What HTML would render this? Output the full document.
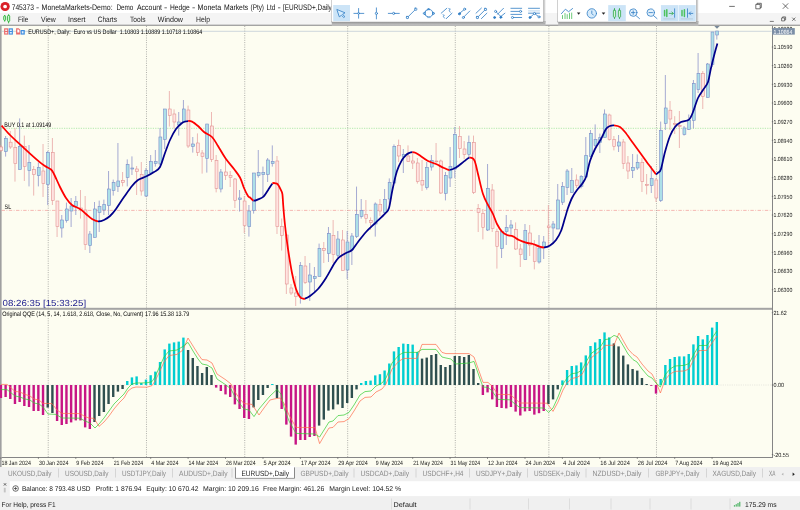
<!DOCTYPE html>
<html lang="en"><head><meta charset="utf-8"><title>745373 - MonetaMarkets-Demo - [EURUSD+,Daily]</title>
<style>
html,body{margin:0;padding:0;background:#f0f0f0;overflow:hidden}
svg{display:block;will-change:transform;font-family:"Liberation Sans",sans-serif}
text{white-space:pre;text-rendering:geometricPrecision}
.t7{font-size:6.6px;fill:#000}
.ax{font-size:6px;fill:#1a1a1a}
.dt{font-size:6.2px;fill:#1a1a1a}
.tab{font-size:7.6px;fill:#8a8a8a}
.tabA{font-size:7.6px;fill:#222}
.tb{font-size:7px;fill:#1a1a1a}
.menu{font-size:7.8px;fill:#222}
</style></head><body>
<svg width="800" height="510" viewBox="0 0 800 510">
<rect x="0" y="0" width="800" height="510" fill="#f0f0f0"/>
<rect x="0" y="0" width="800" height="13" fill="#ffffff"/>
<rect x="0" y="13" width="800" height="12.5" fill="#f4f4f4"/>
<rect x="0" y="25.5" width="800" height="442" fill="#fdfdf1"/>
<rect x="0" y="24" width="800" height="1" fill="#dcdcdc"/><rect x="0" y="24.9" width="800" height="0.9" fill="#8f8f8f"/>
<rect x="0" y="25.5" width="1.6" height="442" fill="#a0a0a0"/>
<line x1="48.22" y1="26" x2="48.22" y2="457" stroke="#7c7c7c" stroke-width="0.6" stroke-dasharray="1 1.3"/>
<line x1="146.48" y1="26" x2="146.48" y2="457" stroke="#7c7c7c" stroke-width="0.6" stroke-dasharray="1 1.3"/>
<line x1="244.74" y1="26" x2="244.74" y2="457" stroke="#7c7c7c" stroke-width="0.6" stroke-dasharray="1 1.3"/>
<line x1="347.68" y1="26" x2="347.68" y2="457" stroke="#7c7c7c" stroke-width="0.6" stroke-dasharray="1 1.3"/>
<line x1="455.29" y1="26" x2="455.29" y2="457" stroke="#7c7c7c" stroke-width="0.6" stroke-dasharray="1 1.3"/>
<line x1="548.87" y1="26" x2="548.87" y2="457" stroke="#7c7c7c" stroke-width="0.6" stroke-dasharray="1 1.3"/>
<line x1="656.49" y1="26" x2="656.49" y2="457" stroke="#7c7c7c" stroke-width="0.6" stroke-dasharray="1 1.3"/>
<line x1="1.6" y1="128.3" x2="771.6" y2="128.3" stroke="#7fdc7f" stroke-width="0.6" stroke-dasharray="1.2 1.2"/>
<line x1="1.6" y1="210.4" x2="771.6" y2="210.4" stroke="#f08a8a" stroke-width="0.6" stroke-dasharray="3.4 1.5 0.8 1.5"/>
<line x1="1.6" y1="31.3" x2="771.6" y2="31.3" stroke="#b9c6d2" stroke-width="0.7"/>
<line x1="1.6" y1="385" x2="771.6" y2="385" stroke="#c8c8c8" stroke-width="0.6" stroke-dasharray="0.6 1.2"/>
<line x1="0.93" y1="145.0" x2="0.93" y2="152.0" stroke="#e59a9a" stroke-width="0.7"/>
<rect x="-0.17" y="147.0" width="2.9" height="3.4" fill="#ffe4e1" stroke="#e29292" stroke-width="0.6"/>
<line x1="5.61" y1="136.0" x2="5.61" y2="156.6" stroke="#7f86c6" stroke-width="0.7"/>
<rect x="4.51" y="138.4" width="2.9" height="13.2" fill="#ace0e8" stroke="#7a8ac8" stroke-width="0.6"/>
<line x1="10.29" y1="131.0" x2="10.29" y2="149.0" stroke="#e59a9a" stroke-width="0.7"/>
<rect x="9.19" y="142.2" width="2.9" height="4.8" fill="#ffe4e1" stroke="#e29292" stroke-width="0.6"/>
<line x1="14.97" y1="128.0" x2="14.97" y2="181.6" stroke="#e59a9a" stroke-width="0.7"/>
<rect x="13.87" y="147.4" width="2.9" height="16.2" fill="#ffe4e1" stroke="#e29292" stroke-width="0.6"/>
<line x1="19.65" y1="118.4" x2="19.65" y2="169.4" stroke="#7f86c6" stroke-width="0.7"/>
<rect x="18.55" y="146.4" width="2.9" height="23.0" fill="#ace0e8" stroke="#7a8ac8" stroke-width="0.6"/>
<line x1="24.33" y1="135.6" x2="24.33" y2="181.0" stroke="#e59a9a" stroke-width="0.7"/>
<rect x="23.23" y="146.4" width="2.9" height="20.0" fill="#ffe4e1" stroke="#e29292" stroke-width="0.6"/>
<line x1="29.00" y1="145.0" x2="29.00" y2="186.4" stroke="#7f86c6" stroke-width="0.7"/>
<rect x="27.90" y="162.4" width="2.9" height="8.2" fill="#ace0e8" stroke="#7a8ac8" stroke-width="0.6"/>
<line x1="33.68" y1="166.0" x2="33.68" y2="195.6" stroke="#e59a9a" stroke-width="0.7"/>
<rect x="32.58" y="169.4" width="2.9" height="5.2" fill="#ffe4e1" stroke="#e29292" stroke-width="0.6"/>
<line x1="38.36" y1="162.4" x2="38.36" y2="186.4" stroke="#7f86c6" stroke-width="0.7"/>
<rect x="37.26" y="167.4" width="2.9" height="8.2" fill="#ace0e8" stroke="#7a8ac8" stroke-width="0.6"/>
<line x1="43.04" y1="144.0" x2="43.04" y2="197.0" stroke="#e59a9a" stroke-width="0.7"/>
<rect x="41.94" y="171.0" width="2.9" height="12.4" fill="#ffe4e1" stroke="#e29292" stroke-width="0.6"/>
<line x1="47.72" y1="151.0" x2="47.72" y2="205.0" stroke="#7f86c6" stroke-width="0.7"/>
<rect x="46.62" y="152.4" width="2.9" height="32.0" fill="#ace0e8" stroke="#7a8ac8" stroke-width="0.6"/>
<line x1="52.40" y1="138.0" x2="52.40" y2="205.0" stroke="#e59a9a" stroke-width="0.7"/>
<rect x="51.30" y="152.4" width="2.9" height="48.0" fill="#ffe4e1" stroke="#e29292" stroke-width="0.6"/>
<line x1="57.08" y1="201.0" x2="57.08" y2="237.0" stroke="#e59a9a" stroke-width="0.7"/>
<rect x="55.98" y="201.0" width="2.9" height="25.6" fill="#ffe4e1" stroke="#e29292" stroke-width="0.6"/>
<line x1="61.76" y1="215.0" x2="61.76" y2="237.6" stroke="#7f86c6" stroke-width="0.7"/>
<rect x="60.66" y="220.0" width="2.9" height="8.0" fill="#ace0e8" stroke="#7a8ac8" stroke-width="0.6"/>
<line x1="66.44" y1="202.6" x2="66.44" y2="222.6" stroke="#7f86c6" stroke-width="0.7"/>
<rect x="65.34" y="209.0" width="2.9" height="11.6" fill="#ace0e8" stroke="#7a8ac8" stroke-width="0.6"/>
<line x1="71.12" y1="198.0" x2="71.12" y2="227.0" stroke="#7f86c6" stroke-width="0.7"/>
<rect x="70.02" y="206.0" width="2.9" height="5.0" fill="#ace0e8" stroke="#7a8ac8" stroke-width="0.6"/>
<line x1="75.79" y1="196.0" x2="75.79" y2="215.0" stroke="#7f86c6" stroke-width="0.7"/>
<rect x="74.69" y="201.4" width="2.9" height="5.2" fill="#ace0e8" stroke="#7a8ac8" stroke-width="0.6"/>
<line x1="80.47" y1="190.0" x2="80.47" y2="218.6" stroke="#e59a9a" stroke-width="0.7"/>
<rect x="79.37" y="208.0" width="2.9" height="2.0" fill="#ffe4e1" stroke="#e29292" stroke-width="0.6"/>
<line x1="85.15" y1="196.0" x2="85.15" y2="250.0" stroke="#e59a9a" stroke-width="0.7"/>
<rect x="84.05" y="210.0" width="2.9" height="34.6" fill="#ffe4e1" stroke="#e29292" stroke-width="0.6"/>
<line x1="89.83" y1="231.0" x2="89.83" y2="253.0" stroke="#7f86c6" stroke-width="0.7"/>
<rect x="88.73" y="234.0" width="2.9" height="11.6" fill="#ace0e8" stroke="#7a8ac8" stroke-width="0.6"/>
<line x1="94.51" y1="202.0" x2="94.51" y2="237.4" stroke="#7f86c6" stroke-width="0.7"/>
<rect x="93.41" y="209.0" width="2.9" height="28.4" fill="#ace0e8" stroke="#7a8ac8" stroke-width="0.6"/>
<line x1="99.19" y1="200.6" x2="99.19" y2="232.0" stroke="#7f86c6" stroke-width="0.7"/>
<rect x="98.09" y="206.4" width="2.9" height="6.0" fill="#ace0e8" stroke="#7a8ac8" stroke-width="0.6"/>
<line x1="103.87" y1="199.6" x2="103.87" y2="215.0" stroke="#7f86c6" stroke-width="0.7"/>
<rect x="102.77" y="204.4" width="2.9" height="5.6" fill="#ace0e8" stroke="#7a8ac8" stroke-width="0.6"/>
<line x1="108.55" y1="171.0" x2="108.55" y2="215.0" stroke="#7f86c6" stroke-width="0.7"/>
<rect x="107.45" y="189.0" width="2.9" height="16.6" fill="#ace0e8" stroke="#7a8ac8" stroke-width="0.6"/>
<line x1="113.23" y1="179.6" x2="113.23" y2="195.6" stroke="#7f86c6" stroke-width="0.7"/>
<rect x="112.13" y="182.4" width="2.9" height="8.0" fill="#ace0e8" stroke="#7a8ac8" stroke-width="0.6"/>
<line x1="117.91" y1="143.0" x2="117.91" y2="192.0" stroke="#7f86c6" stroke-width="0.7"/>
<rect x="116.81" y="181.0" width="2.9" height="5.4" fill="#ace0e8" stroke="#7a8ac8" stroke-width="0.6"/>
<line x1="122.58" y1="172.0" x2="122.58" y2="186.4" stroke="#e59a9a" stroke-width="0.7"/>
<rect x="121.48" y="180.4" width="2.9" height="2.2" fill="#ffe4e1" stroke="#e29292" stroke-width="0.6"/>
<line x1="127.26" y1="159.4" x2="127.26" y2="186.4" stroke="#7f86c6" stroke-width="0.7"/>
<rect x="126.16" y="164.4" width="2.9" height="13.0" fill="#ace0e8" stroke="#7a8ac8" stroke-width="0.6"/>
<line x1="131.94" y1="156.4" x2="131.94" y2="175.0" stroke="#7f86c6" stroke-width="0.7"/>
<rect x="130.84" y="168.0" width="2.9" height="1.0" fill="#ace0e8" stroke="#7a8ac8" stroke-width="0.6"/>
<line x1="136.62" y1="166.0" x2="136.62" y2="195.0" stroke="#e59a9a" stroke-width="0.7"/>
<rect x="135.52" y="169.0" width="2.9" height="2.6" fill="#ffe4e1" stroke="#e29292" stroke-width="0.6"/>
<line x1="141.30" y1="162.0" x2="141.30" y2="195.6" stroke="#e59a9a" stroke-width="0.7"/>
<rect x="140.20" y="174.4" width="2.9" height="16.6" fill="#ffe4e1" stroke="#e29292" stroke-width="0.6"/>
<line x1="145.98" y1="168.0" x2="145.98" y2="197.0" stroke="#7f86c6" stroke-width="0.7"/>
<rect x="144.88" y="170.6" width="2.9" height="25.4" fill="#ace0e8" stroke="#7a8ac8" stroke-width="0.6"/>
<line x1="150.66" y1="155.0" x2="150.66" y2="173.0" stroke="#7f86c6" stroke-width="0.7"/>
<rect x="149.56" y="161.6" width="2.9" height="11.4" fill="#ace0e8" stroke="#7a8ac8" stroke-width="0.6"/>
<line x1="155.34" y1="150.0" x2="155.34" y2="166.6" stroke="#7f86c6" stroke-width="0.7"/>
<rect x="154.24" y="161.6" width="2.9" height="1.8" fill="#ace0e8" stroke="#7a8ac8" stroke-width="0.6"/>
<line x1="160.02" y1="128.0" x2="160.02" y2="165.0" stroke="#7f86c6" stroke-width="0.7"/>
<rect x="158.92" y="137.0" width="2.9" height="27.0" fill="#ace0e8" stroke="#7a8ac8" stroke-width="0.6"/>
<line x1="164.70" y1="109.0" x2="164.70" y2="149.0" stroke="#7f86c6" stroke-width="0.7"/>
<rect x="163.60" y="109.0" width="2.9" height="30.4" fill="#ace0e8" stroke="#7a8ac8" stroke-width="0.6"/>
<line x1="169.37" y1="91.0" x2="169.37" y2="126.5" stroke="#e59a9a" stroke-width="0.7"/>
<rect x="168.27" y="109.0" width="2.9" height="6.4" fill="#ffe4e1" stroke="#e29292" stroke-width="0.6"/>
<line x1="174.05" y1="109.4" x2="174.05" y2="128.5" stroke="#e59a9a" stroke-width="0.7"/>
<rect x="172.95" y="114.0" width="2.9" height="8.0" fill="#ffe4e1" stroke="#e29292" stroke-width="0.6"/>
<line x1="178.73" y1="112.0" x2="178.73" y2="135.6" stroke="#7f86c6" stroke-width="0.7"/>
<rect x="177.63" y="122.0" width="2.9" height="3.0" fill="#ace0e8" stroke="#7a8ac8" stroke-width="0.6"/>
<line x1="183.41" y1="100.0" x2="183.41" y2="122.0" stroke="#7f86c6" stroke-width="0.7"/>
<rect x="182.31" y="109.0" width="2.9" height="13.0" fill="#ace0e8" stroke="#7a8ac8" stroke-width="0.6"/>
<line x1="188.09" y1="105.6" x2="188.09" y2="148.0" stroke="#e59a9a" stroke-width="0.7"/>
<rect x="186.99" y="110.0" width="2.9" height="36.0" fill="#ffe4e1" stroke="#e29292" stroke-width="0.6"/>
<line x1="192.77" y1="137.0" x2="192.77" y2="152.6" stroke="#7f86c6" stroke-width="0.7"/>
<rect x="191.67" y="144.0" width="2.9" height="2.4" fill="#ace0e8" stroke="#7a8ac8" stroke-width="0.6"/>
<line x1="197.45" y1="133.4" x2="197.45" y2="156.0" stroke="#e59a9a" stroke-width="0.7"/>
<rect x="196.35" y="143.0" width="2.9" height="9.4" fill="#ffe4e1" stroke="#e29292" stroke-width="0.6"/>
<line x1="202.13" y1="150.0" x2="202.13" y2="173.6" stroke="#e59a9a" stroke-width="0.7"/>
<rect x="201.03" y="153.0" width="2.9" height="3.4" fill="#ffe4e1" stroke="#e29292" stroke-width="0.6"/>
<line x1="206.81" y1="124.0" x2="206.81" y2="172.6" stroke="#7f86c6" stroke-width="0.7"/>
<rect x="205.71" y="124.0" width="2.9" height="34.6" fill="#ace0e8" stroke="#7a8ac8" stroke-width="0.6"/>
<line x1="211.49" y1="112.0" x2="211.49" y2="162.0" stroke="#e59a9a" stroke-width="0.7"/>
<rect x="210.39" y="126.0" width="2.9" height="33.4" fill="#ffe4e1" stroke="#e29292" stroke-width="0.6"/>
<line x1="216.16" y1="155.0" x2="216.16" y2="192.4" stroke="#e59a9a" stroke-width="0.7"/>
<rect x="215.06" y="160.6" width="2.9" height="27.8" fill="#ffe4e1" stroke="#e29292" stroke-width="0.6"/>
<line x1="220.84" y1="169.0" x2="220.84" y2="192.4" stroke="#7f86c6" stroke-width="0.7"/>
<rect x="219.74" y="172.0" width="2.9" height="17.0" fill="#ace0e8" stroke="#7a8ac8" stroke-width="0.6"/>
<line x1="225.52" y1="159.4" x2="225.52" y2="180.0" stroke="#e59a9a" stroke-width="0.7"/>
<rect x="224.42" y="172.0" width="2.9" height="3.6" fill="#ffe4e1" stroke="#e29292" stroke-width="0.6"/>
<line x1="230.20" y1="171.0" x2="230.20" y2="187.0" stroke="#e59a9a" stroke-width="0.7"/>
<rect x="229.10" y="175.4" width="2.9" height="2.2" fill="#ffe4e1" stroke="#e29292" stroke-width="0.6"/>
<line x1="234.88" y1="178.0" x2="234.88" y2="208.0" stroke="#e59a9a" stroke-width="0.7"/>
<rect x="233.78" y="179.0" width="2.9" height="21.4" fill="#ffe4e1" stroke="#e29292" stroke-width="0.6"/>
<line x1="239.56" y1="190.0" x2="239.56" y2="211.6" stroke="#7f86c6" stroke-width="0.7"/>
<rect x="238.46" y="198.0" width="2.9" height="1.6" fill="#ace0e8" stroke="#7a8ac8" stroke-width="0.6"/>
<line x1="244.24" y1="196.0" x2="244.24" y2="233.0" stroke="#e59a9a" stroke-width="0.7"/>
<rect x="243.14" y="201.0" width="2.9" height="24.6" fill="#ffe4e1" stroke="#e29292" stroke-width="0.6"/>
<line x1="248.92" y1="205.0" x2="248.92" y2="236.6" stroke="#7f86c6" stroke-width="0.7"/>
<rect x="247.82" y="211.0" width="2.9" height="15.6" fill="#ace0e8" stroke="#7a8ac8" stroke-width="0.6"/>
<line x1="253.60" y1="173.0" x2="253.60" y2="213.6" stroke="#7f86c6" stroke-width="0.7"/>
<rect x="252.50" y="173.0" width="2.9" height="37.6" fill="#ace0e8" stroke="#7a8ac8" stroke-width="0.6"/>
<line x1="258.28" y1="150.0" x2="258.28" y2="177.6" stroke="#7f86c6" stroke-width="0.7"/>
<rect x="257.18" y="172.6" width="2.9" height="3.0" fill="#ace0e8" stroke="#7a8ac8" stroke-width="0.6"/>
<line x1="262.95" y1="166.6" x2="262.95" y2="196.0" stroke="#7f86c6" stroke-width="0.7"/>
<rect x="261.85" y="172.6" width="2.9" height="2.0" fill="#ace0e8" stroke="#7a8ac8" stroke-width="0.6"/>
<line x1="267.63" y1="158.0" x2="267.63" y2="182.0" stroke="#7f86c6" stroke-width="0.7"/>
<rect x="266.53" y="160.0" width="2.9" height="14.4" fill="#ace0e8" stroke="#7a8ac8" stroke-width="0.6"/>
<line x1="272.31" y1="145.4" x2="272.31" y2="166.6" stroke="#7f86c6" stroke-width="0.7"/>
<rect x="271.21" y="161.4" width="2.9" height="2.2" fill="#ace0e8" stroke="#7a8ac8" stroke-width="0.6"/>
<line x1="276.99" y1="156.0" x2="276.99" y2="234.0" stroke="#e59a9a" stroke-width="0.7"/>
<rect x="275.89" y="161.0" width="2.9" height="65.6" fill="#ffe4e1" stroke="#e29292" stroke-width="0.6"/>
<line x1="281.67" y1="218.5" x2="281.67" y2="250.6" stroke="#e59a9a" stroke-width="0.7"/>
<rect x="280.57" y="226.6" width="2.9" height="8.9" fill="#ffe4e1" stroke="#e29292" stroke-width="0.6"/>
<line x1="286.35" y1="235.0" x2="286.35" y2="294.0" stroke="#e59a9a" stroke-width="0.7"/>
<rect x="285.25" y="235.0" width="2.9" height="49.0" fill="#ffe4e1" stroke="#e29292" stroke-width="0.6"/>
<line x1="291.03" y1="284.0" x2="291.03" y2="295.0" stroke="#e59a9a" stroke-width="0.7"/>
<rect x="289.93" y="288.0" width="2.9" height="5.0" fill="#ffe4e1" stroke="#e29292" stroke-width="0.6"/>
<line x1="295.71" y1="276.0" x2="295.71" y2="306.0" stroke="#e59a9a" stroke-width="0.7"/>
<rect x="294.61" y="293.0" width="2.9" height="3.6" fill="#ffe4e1" stroke="#e29292" stroke-width="0.6"/>
<line x1="300.39" y1="262.0" x2="300.39" y2="303.6" stroke="#7f86c6" stroke-width="0.7"/>
<rect x="299.29" y="265.6" width="2.9" height="31.0" fill="#ace0e8" stroke="#7a8ac8" stroke-width="0.6"/>
<line x1="305.06" y1="256.0" x2="305.06" y2="284.0" stroke="#e59a9a" stroke-width="0.7"/>
<rect x="303.96" y="266.0" width="2.9" height="16.4" fill="#ffe4e1" stroke="#e29292" stroke-width="0.6"/>
<line x1="309.74" y1="263.0" x2="309.74" y2="301.0" stroke="#7f86c6" stroke-width="0.7"/>
<rect x="308.64" y="275.0" width="2.9" height="7.0" fill="#ace0e8" stroke="#7a8ac8" stroke-width="0.6"/>
<line x1="314.42" y1="267.0" x2="314.42" y2="292.4" stroke="#7f86c6" stroke-width="0.7"/>
<rect x="313.32" y="276.4" width="2.9" height="2.2" fill="#ace0e8" stroke="#7a8ac8" stroke-width="0.6"/>
<line x1="319.10" y1="243.6" x2="319.10" y2="276.4" stroke="#7f86c6" stroke-width="0.7"/>
<rect x="318.00" y="248.4" width="2.9" height="28.0" fill="#ace0e8" stroke="#7a8ac8" stroke-width="0.6"/>
<line x1="323.78" y1="242.0" x2="323.78" y2="263.0" stroke="#e59a9a" stroke-width="0.7"/>
<rect x="322.68" y="248.4" width="2.9" height="2.0" fill="#ffe4e1" stroke="#e29292" stroke-width="0.6"/>
<line x1="328.46" y1="227.0" x2="328.46" y2="262.0" stroke="#7f86c6" stroke-width="0.7"/>
<rect x="327.36" y="233.4" width="2.9" height="20.0" fill="#ace0e8" stroke="#7a8ac8" stroke-width="0.6"/>
<line x1="333.14" y1="220.0" x2="333.14" y2="263.0" stroke="#e59a9a" stroke-width="0.7"/>
<rect x="332.04" y="235.4" width="2.9" height="19.2" fill="#ffe4e1" stroke="#e29292" stroke-width="0.6"/>
<line x1="337.82" y1="231.0" x2="337.82" y2="258.0" stroke="#7f86c6" stroke-width="0.7"/>
<rect x="336.72" y="239.0" width="2.9" height="16.4" fill="#ace0e8" stroke="#7a8ac8" stroke-width="0.6"/>
<line x1="342.50" y1="230.0" x2="342.50" y2="270.4" stroke="#e59a9a" stroke-width="0.7"/>
<rect x="341.40" y="240.0" width="2.9" height="30.4" fill="#ffe4e1" stroke="#e29292" stroke-width="0.6"/>
<line x1="347.18" y1="231.0" x2="347.18" y2="279.0" stroke="#7f86c6" stroke-width="0.7"/>
<rect x="346.08" y="242.0" width="2.9" height="28.0" fill="#ace0e8" stroke="#7a8ac8" stroke-width="0.6"/>
<line x1="351.86" y1="233.0" x2="351.86" y2="265.0" stroke="#7f86c6" stroke-width="0.7"/>
<rect x="350.75" y="236.0" width="2.9" height="14.0" fill="#ace0e8" stroke="#7a8ac8" stroke-width="0.6"/>
<line x1="356.53" y1="186.6" x2="356.53" y2="238.0" stroke="#7f86c6" stroke-width="0.7"/>
<rect x="355.43" y="214.4" width="2.9" height="22.2" fill="#ace0e8" stroke="#7a8ac8" stroke-width="0.6"/>
<line x1="361.21" y1="199.0" x2="361.21" y2="218.6" stroke="#7f86c6" stroke-width="0.7"/>
<rect x="360.11" y="210.6" width="2.9" height="5.8" fill="#ace0e8" stroke="#7a8ac8" stroke-width="0.6"/>
<line x1="365.89" y1="200.0" x2="365.89" y2="223.4" stroke="#e59a9a" stroke-width="0.7"/>
<rect x="364.79" y="214.4" width="2.9" height="4.2" fill="#ffe4e1" stroke="#e29292" stroke-width="0.6"/>
<line x1="370.57" y1="217.4" x2="370.57" y2="230.0" stroke="#e59a9a" stroke-width="0.7"/>
<rect x="369.47" y="220.4" width="2.9" height="2.2" fill="#ffe4e1" stroke="#e29292" stroke-width="0.6"/>
<line x1="375.25" y1="202.4" x2="375.25" y2="236.6" stroke="#7f86c6" stroke-width="0.7"/>
<rect x="374.15" y="204.0" width="2.9" height="20.0" fill="#ace0e8" stroke="#7a8ac8" stroke-width="0.6"/>
<line x1="379.93" y1="199.0" x2="379.93" y2="216.0" stroke="#e59a9a" stroke-width="0.7"/>
<rect x="378.83" y="204.4" width="2.9" height="6.6" fill="#ffe4e1" stroke="#e29292" stroke-width="0.6"/>
<line x1="384.61" y1="189.0" x2="384.61" y2="212.6" stroke="#7f86c6" stroke-width="0.7"/>
<rect x="383.51" y="199.4" width="2.9" height="13.2" fill="#ace0e8" stroke="#7a8ac8" stroke-width="0.6"/>
<line x1="389.29" y1="178.4" x2="389.29" y2="205.0" stroke="#7f86c6" stroke-width="0.7"/>
<rect x="388.19" y="182.4" width="2.9" height="16.6" fill="#ace0e8" stroke="#7a8ac8" stroke-width="0.6"/>
<line x1="393.97" y1="144.4" x2="393.97" y2="183.0" stroke="#7f86c6" stroke-width="0.7"/>
<rect x="392.87" y="146.4" width="2.9" height="36.6" fill="#ace0e8" stroke="#7a8ac8" stroke-width="0.6"/>
<line x1="398.65" y1="139.6" x2="398.65" y2="162.0" stroke="#e59a9a" stroke-width="0.7"/>
<rect x="397.55" y="145.4" width="2.9" height="10.6" fill="#ffe4e1" stroke="#e29292" stroke-width="0.6"/>
<line x1="403.32" y1="149.0" x2="403.32" y2="173.0" stroke="#7f86c6" stroke-width="0.7"/>
<rect x="402.22" y="154.4" width="2.9" height="2.6" fill="#ace0e8" stroke="#7a8ac8" stroke-width="0.6"/>
<line x1="408.00" y1="145.4" x2="408.00" y2="162.0" stroke="#e59a9a" stroke-width="0.7"/>
<rect x="406.90" y="156.0" width="2.9" height="5.4" fill="#ffe4e1" stroke="#e29292" stroke-width="0.6"/>
<line x1="412.68" y1="152.0" x2="412.68" y2="169.0" stroke="#e59a9a" stroke-width="0.7"/>
<rect x="411.58" y="161.0" width="2.9" height="2.0" fill="#ffe4e1" stroke="#e29292" stroke-width="0.6"/>
<line x1="417.36" y1="158.0" x2="417.36" y2="183.6" stroke="#e59a9a" stroke-width="0.7"/>
<rect x="416.26" y="163.0" width="2.9" height="18.6" fill="#ffe4e1" stroke="#e29292" stroke-width="0.6"/>
<line x1="422.04" y1="160.0" x2="422.04" y2="191.0" stroke="#e59a9a" stroke-width="0.7"/>
<rect x="420.94" y="180.6" width="2.9" height="4.4" fill="#ffe4e1" stroke="#e29292" stroke-width="0.6"/>
<line x1="426.72" y1="162.0" x2="426.72" y2="189.6" stroke="#7f86c6" stroke-width="0.7"/>
<rect x="425.62" y="167.4" width="2.9" height="20.0" fill="#ace0e8" stroke="#7a8ac8" stroke-width="0.6"/>
<line x1="431.40" y1="155.0" x2="431.40" y2="170.6" stroke="#7f86c6" stroke-width="0.7"/>
<rect x="430.30" y="160.4" width="2.9" height="6.6" fill="#ace0e8" stroke="#7a8ac8" stroke-width="0.6"/>
<line x1="436.08" y1="143.0" x2="436.08" y2="163.0" stroke="#e59a9a" stroke-width="0.7"/>
<rect x="434.98" y="161.0" width="2.9" height="0.8" fill="#ffe4e1" stroke="#e29292" stroke-width="0.6"/>
<line x1="440.76" y1="159.6" x2="440.76" y2="194.0" stroke="#e59a9a" stroke-width="0.7"/>
<rect x="439.66" y="161.0" width="2.9" height="32.0" fill="#ffe4e1" stroke="#e29292" stroke-width="0.6"/>
<line x1="445.44" y1="172.0" x2="445.44" y2="200.4" stroke="#7f86c6" stroke-width="0.7"/>
<rect x="444.34" y="175.6" width="2.9" height="17.8" fill="#ace0e8" stroke="#7a8ac8" stroke-width="0.6"/>
<line x1="450.11" y1="147.0" x2="450.11" y2="187.0" stroke="#7f86c6" stroke-width="0.7"/>
<rect x="449.01" y="166.6" width="2.9" height="11.4" fill="#ace0e8" stroke="#7a8ac8" stroke-width="0.6"/>
<line x1="454.79" y1="127.0" x2="454.79" y2="178.0" stroke="#7f86c6" stroke-width="0.7"/>
<rect x="453.69" y="134.4" width="2.9" height="34.6" fill="#ace0e8" stroke="#7a8ac8" stroke-width="0.6"/>
<line x1="459.47" y1="126.0" x2="459.47" y2="158.0" stroke="#e59a9a" stroke-width="0.7"/>
<rect x="458.37" y="136.4" width="2.9" height="12.2" fill="#ffe4e1" stroke="#e29292" stroke-width="0.6"/>
<line x1="464.15" y1="141.0" x2="464.15" y2="159.0" stroke="#e59a9a" stroke-width="0.7"/>
<rect x="463.05" y="149.0" width="2.9" height="5.4" fill="#ffe4e1" stroke="#e29292" stroke-width="0.6"/>
<line x1="468.83" y1="135.6" x2="468.83" y2="157.0" stroke="#7f86c6" stroke-width="0.7"/>
<rect x="467.73" y="142.4" width="2.9" height="12.0" fill="#ace0e8" stroke="#7a8ac8" stroke-width="0.6"/>
<line x1="473.51" y1="135.6" x2="473.51" y2="194.0" stroke="#e59a9a" stroke-width="0.7"/>
<rect x="472.41" y="142.4" width="2.9" height="50.2" fill="#ffe4e1" stroke="#e29292" stroke-width="0.6"/>
<line x1="478.19" y1="204.0" x2="478.19" y2="232.0" stroke="#e59a9a" stroke-width="0.7"/>
<rect x="477.09" y="208.6" width="2.9" height="4.0" fill="#ffe4e1" stroke="#e29292" stroke-width="0.6"/>
<line x1="482.87" y1="209.0" x2="482.87" y2="239.4" stroke="#e59a9a" stroke-width="0.7"/>
<rect x="481.77" y="213.4" width="2.9" height="14.0" fill="#ffe4e1" stroke="#e29292" stroke-width="0.6"/>
<line x1="487.55" y1="164.0" x2="487.55" y2="231.0" stroke="#7f86c6" stroke-width="0.7"/>
<rect x="486.45" y="188.4" width="2.9" height="41.6" fill="#ace0e8" stroke="#7a8ac8" stroke-width="0.6"/>
<line x1="492.23" y1="184.0" x2="492.23" y2="232.0" stroke="#e59a9a" stroke-width="0.7"/>
<rect x="491.12" y="190.0" width="2.9" height="38.6" fill="#ffe4e1" stroke="#e29292" stroke-width="0.6"/>
<line x1="496.90" y1="228.6" x2="496.90" y2="268.6" stroke="#e59a9a" stroke-width="0.7"/>
<rect x="495.80" y="231.4" width="2.9" height="15.0" fill="#ffe4e1" stroke="#e29292" stroke-width="0.6"/>
<line x1="501.58" y1="230.0" x2="501.58" y2="258.0" stroke="#7f86c6" stroke-width="0.7"/>
<rect x="500.48" y="231.6" width="2.9" height="17.0" fill="#ace0e8" stroke="#7a8ac8" stroke-width="0.6"/>
<line x1="506.26" y1="215.0" x2="506.26" y2="245.0" stroke="#7f86c6" stroke-width="0.7"/>
<rect x="505.16" y="227.6" width="2.9" height="4.0" fill="#ace0e8" stroke="#7a8ac8" stroke-width="0.6"/>
<line x1="510.94" y1="220.0" x2="510.94" y2="234.6" stroke="#7f86c6" stroke-width="0.7"/>
<rect x="509.84" y="225.0" width="2.9" height="3.0" fill="#ace0e8" stroke="#7a8ac8" stroke-width="0.6"/>
<line x1="515.62" y1="222.4" x2="515.62" y2="250.0" stroke="#e59a9a" stroke-width="0.7"/>
<rect x="514.52" y="229.4" width="2.9" height="19.6" fill="#ffe4e1" stroke="#e29292" stroke-width="0.6"/>
<line x1="520.30" y1="244.0" x2="520.30" y2="267.0" stroke="#e59a9a" stroke-width="0.7"/>
<rect x="519.20" y="249.0" width="2.9" height="5.6" fill="#ffe4e1" stroke="#e29292" stroke-width="0.6"/>
<line x1="524.98" y1="224.0" x2="524.98" y2="259.6" stroke="#7f86c6" stroke-width="0.7"/>
<rect x="523.88" y="230.4" width="2.9" height="29.2" fill="#ace0e8" stroke="#7a8ac8" stroke-width="0.6"/>
<line x1="529.66" y1="225.0" x2="529.66" y2="256.0" stroke="#e59a9a" stroke-width="0.7"/>
<rect x="528.56" y="233.0" width="2.9" height="12.0" fill="#ffe4e1" stroke="#e29292" stroke-width="0.6"/>
<line x1="534.34" y1="240.0" x2="534.34" y2="269.4" stroke="#e59a9a" stroke-width="0.7"/>
<rect x="533.24" y="245.0" width="2.9" height="16.4" fill="#ffe4e1" stroke="#e29292" stroke-width="0.6"/>
<line x1="539.01" y1="235.0" x2="539.01" y2="263.6" stroke="#7f86c6" stroke-width="0.7"/>
<rect x="537.91" y="248.0" width="2.9" height="14.0" fill="#ace0e8" stroke="#7a8ac8" stroke-width="0.6"/>
<line x1="543.69" y1="236.0" x2="543.69" y2="259.0" stroke="#7f86c6" stroke-width="0.7"/>
<rect x="542.59" y="242.0" width="2.9" height="6.0" fill="#ace0e8" stroke="#7a8ac8" stroke-width="0.6"/>
<line x1="548.37" y1="205.0" x2="548.37" y2="245.0" stroke="#e59a9a" stroke-width="0.7"/>
<rect x="547.27" y="226.0" width="2.9" height="1.4" fill="#ffe4e1" stroke="#e29292" stroke-width="0.6"/>
<line x1="553.05" y1="221.0" x2="553.05" y2="244.0" stroke="#7f86c6" stroke-width="0.7"/>
<rect x="551.95" y="224.0" width="2.9" height="4.0" fill="#ace0e8" stroke="#7a8ac8" stroke-width="0.6"/>
<line x1="557.73" y1="184.0" x2="557.73" y2="229.0" stroke="#7f86c6" stroke-width="0.7"/>
<rect x="556.63" y="200.0" width="2.9" height="29.0" fill="#ace0e8" stroke="#7a8ac8" stroke-width="0.6"/>
<line x1="562.41" y1="182.0" x2="562.41" y2="205.0" stroke="#7f86c6" stroke-width="0.7"/>
<rect x="561.31" y="186.4" width="2.9" height="15.8" fill="#ace0e8" stroke="#7a8ac8" stroke-width="0.6"/>
<line x1="567.09" y1="169.0" x2="567.09" y2="195.0" stroke="#7f86c6" stroke-width="0.7"/>
<rect x="565.99" y="171.0" width="2.9" height="16.4" fill="#ace0e8" stroke="#7a8ac8" stroke-width="0.6"/>
<line x1="571.77" y1="168.0" x2="571.77" y2="192.4" stroke="#7f86c6" stroke-width="0.7"/>
<rect x="570.67" y="180.6" width="2.9" height="11.8" fill="#ace0e8" stroke="#7a8ac8" stroke-width="0.6"/>
<line x1="576.45" y1="174.4" x2="576.45" y2="188.0" stroke="#e59a9a" stroke-width="0.7"/>
<rect x="575.35" y="180.0" width="2.9" height="5.6" fill="#ffe4e1" stroke="#e29292" stroke-width="0.6"/>
<line x1="581.13" y1="175.0" x2="581.13" y2="188.4" stroke="#7f86c6" stroke-width="0.7"/>
<rect x="580.03" y="176.4" width="2.9" height="10.0" fill="#ace0e8" stroke="#7a8ac8" stroke-width="0.6"/>
<line x1="585.80" y1="137.0" x2="585.80" y2="177.0" stroke="#7f86c6" stroke-width="0.7"/>
<rect x="584.70" y="155.4" width="2.9" height="21.6" fill="#ace0e8" stroke="#7a8ac8" stroke-width="0.6"/>
<line x1="590.48" y1="130.0" x2="590.48" y2="156.6" stroke="#7f86c6" stroke-width="0.7"/>
<rect x="589.38" y="133.4" width="2.9" height="23.2" fill="#ace0e8" stroke="#7a8ac8" stroke-width="0.6"/>
<line x1="595.16" y1="124.4" x2="595.16" y2="147.0" stroke="#7f86c6" stroke-width="0.7"/>
<rect x="594.06" y="139.4" width="2.9" height="6.2" fill="#ace0e8" stroke="#7a8ac8" stroke-width="0.6"/>
<line x1="599.84" y1="133.6" x2="599.84" y2="153.0" stroke="#7f86c6" stroke-width="0.7"/>
<rect x="598.74" y="137.4" width="2.9" height="5.2" fill="#ace0e8" stroke="#7a8ac8" stroke-width="0.6"/>
<line x1="604.52" y1="109.4" x2="604.52" y2="137.4" stroke="#7f86c6" stroke-width="0.7"/>
<rect x="603.42" y="114.0" width="2.9" height="23.4" fill="#ace0e8" stroke="#7a8ac8" stroke-width="0.6"/>
<line x1="609.20" y1="113.6" x2="609.20" y2="140.6" stroke="#e59a9a" stroke-width="0.7"/>
<rect x="608.10" y="115.0" width="2.9" height="24.4" fill="#ffe4e1" stroke="#e29292" stroke-width="0.6"/>
<line x1="613.88" y1="136.0" x2="613.88" y2="150.4" stroke="#e59a9a" stroke-width="0.7"/>
<rect x="612.78" y="139.4" width="2.9" height="7.0" fill="#ffe4e1" stroke="#e29292" stroke-width="0.6"/>
<line x1="618.56" y1="135.0" x2="618.56" y2="152.0" stroke="#7f86c6" stroke-width="0.7"/>
<rect x="617.46" y="142.0" width="2.9" height="4.0" fill="#ace0e8" stroke="#7a8ac8" stroke-width="0.6"/>
<line x1="623.24" y1="139.0" x2="623.24" y2="169.0" stroke="#e59a9a" stroke-width="0.7"/>
<rect x="622.14" y="142.0" width="2.9" height="21.6" fill="#ffe4e1" stroke="#e29292" stroke-width="0.6"/>
<line x1="627.92" y1="156.0" x2="627.92" y2="179.0" stroke="#e59a9a" stroke-width="0.7"/>
<rect x="626.82" y="163.0" width="2.9" height="8.0" fill="#ffe4e1" stroke="#e29292" stroke-width="0.6"/>
<line x1="632.60" y1="154.0" x2="632.60" y2="178.0" stroke="#7f86c6" stroke-width="0.7"/>
<rect x="631.50" y="167.4" width="2.9" height="3.2" fill="#ace0e8" stroke="#7a8ac8" stroke-width="0.6"/>
<line x1="637.27" y1="154.4" x2="637.27" y2="170.0" stroke="#7f86c6" stroke-width="0.7"/>
<rect x="636.17" y="162.4" width="2.9" height="5.6" fill="#ace0e8" stroke="#7a8ac8" stroke-width="0.6"/>
<line x1="641.95" y1="158.0" x2="641.95" y2="192.0" stroke="#e59a9a" stroke-width="0.7"/>
<rect x="640.85" y="162.4" width="2.9" height="19.0" fill="#ffe4e1" stroke="#e29292" stroke-width="0.6"/>
<line x1="646.63" y1="174.0" x2="646.63" y2="194.4" stroke="#e59a9a" stroke-width="0.7"/>
<rect x="645.53" y="184.4" width="2.9" height="1.0" fill="#ffe4e1" stroke="#e29292" stroke-width="0.6"/>
<line x1="651.31" y1="166.0" x2="651.31" y2="193.0" stroke="#7f86c6" stroke-width="0.7"/>
<rect x="650.21" y="178.4" width="2.9" height="7.2" fill="#ace0e8" stroke="#7a8ac8" stroke-width="0.6"/>
<line x1="655.99" y1="178.0" x2="655.99" y2="202.0" stroke="#e59a9a" stroke-width="0.7"/>
<rect x="654.89" y="180.0" width="2.9" height="18.0" fill="#ffe4e1" stroke="#e29292" stroke-width="0.6"/>
<line x1="660.67" y1="121.6" x2="660.67" y2="202.0" stroke="#7f86c6" stroke-width="0.7"/>
<rect x="659.57" y="130.4" width="2.9" height="70.2" fill="#ace0e8" stroke="#7a8ac8" stroke-width="0.6"/>
<line x1="665.35" y1="75.0" x2="665.35" y2="130.0" stroke="#7f86c6" stroke-width="0.7"/>
<rect x="664.25" y="108.0" width="2.9" height="15.4" fill="#ace0e8" stroke="#7a8ac8" stroke-width="0.6"/>
<line x1="670.03" y1="101.0" x2="670.03" y2="130.0" stroke="#e59a9a" stroke-width="0.7"/>
<rect x="668.93" y="110.2" width="2.9" height="8.8" fill="#ffe4e1" stroke="#e29292" stroke-width="0.6"/>
<line x1="674.71" y1="116.2" x2="674.71" y2="134.0" stroke="#e59a9a" stroke-width="0.7"/>
<rect x="673.61" y="123.4" width="2.9" height="1.0" fill="#ffe4e1" stroke="#e29292" stroke-width="0.6"/>
<line x1="679.38" y1="111.0" x2="679.38" y2="148.0" stroke="#e59a9a" stroke-width="0.7"/>
<rect x="678.28" y="125.5" width="2.9" height="1.0" fill="#ffe4e1" stroke="#e29292" stroke-width="0.6"/>
<line x1="684.06" y1="126.0" x2="684.06" y2="135.6" stroke="#7f86c6" stroke-width="0.7"/>
<rect x="682.96" y="128.0" width="2.9" height="6.4" fill="#ace0e8" stroke="#7a8ac8" stroke-width="0.6"/>
<line x1="688.74" y1="114.5" x2="688.74" y2="130.0" stroke="#7f86c6" stroke-width="0.7"/>
<rect x="687.64" y="120.0" width="2.9" height="9.4" fill="#ace0e8" stroke="#7a8ac8" stroke-width="0.6"/>
<line x1="693.42" y1="80.0" x2="693.42" y2="128.4" stroke="#7f86c6" stroke-width="0.7"/>
<rect x="692.32" y="83.4" width="2.9" height="37.0" fill="#ace0e8" stroke="#7a8ac8" stroke-width="0.6"/>
<line x1="698.10" y1="53.0" x2="698.10" y2="93.0" stroke="#7f86c6" stroke-width="0.7"/>
<rect x="697.00" y="73.4" width="2.9" height="16.2" fill="#ace0e8" stroke="#7a8ac8" stroke-width="0.6"/>
<line x1="702.78" y1="71.0" x2="702.78" y2="109.0" stroke="#e59a9a" stroke-width="0.7"/>
<rect x="701.68" y="73.4" width="2.9" height="23.0" fill="#ffe4e1" stroke="#e29292" stroke-width="0.6"/>
<line x1="707.46" y1="63.0" x2="707.46" y2="97.4" stroke="#7f86c6" stroke-width="0.7"/>
<rect x="706.36" y="64.0" width="2.9" height="33.4" fill="#ace0e8" stroke="#7a8ac8" stroke-width="0.6"/>
<line x1="712.14" y1="32.0" x2="712.14" y2="67.0" stroke="#7f86c6" stroke-width="0.7"/>
<rect x="711.04" y="32.0" width="2.9" height="32.6" fill="#ace0e8" stroke="#7a8ac8" stroke-width="0.6"/>
<line x1="716.82" y1="31.0" x2="716.82" y2="39.6" stroke="#7f86c6" stroke-width="0.7"/>
<rect x="715.72" y="31.0" width="2.9" height="4.0" fill="#ace0e8" stroke="#7a8ac8" stroke-width="0.6"/>
<path d="M1.6 125.6C3.0 127.2 6.9 131.9 10.0 135.0C13.1 138.1 16.7 141.3 20.0 144.4C23.3 147.5 26.7 150.6 30.0 153.6C33.3 156.6 37.5 160.3 40.0 162.4C42.5 164.5 43.2 164.8 45.0 166.0C46.8 167.2 49.5 168.2 51.0 169.5C52.5 170.8 52.5 171.1 54.0 174.0C55.5 176.9 58.0 183.0 60.0 187.0C62.0 191.0 64.0 195.0 66.0 198.0C68.0 201.0 69.7 203.2 72.0 205.0C74.3 206.8 77.7 207.5 80.0 209.0C82.3 210.5 84.0 212.3 86.0 214.0C88.0 215.7 90.0 217.8 92.0 219.0C94.0 220.2 96.0 221.2 98.0 221.4" fill="none" stroke="#ff0000" stroke-width="1.75" stroke-linejoin="round" stroke-linecap="butt"/>
<path d="M98.0 221.4C100.0 221.6 102.0 220.9 104.0 220.0C106.0 219.1 108.0 217.8 110.0 216.0C112.0 214.2 113.7 212.2 116.0 209.0C118.3 205.8 121.3 200.8 124.0 197.0C126.7 193.2 129.7 188.8 132.0 186.0C134.3 183.2 135.7 181.6 138.0 180.0C140.3 178.4 143.3 177.8 146.0 176.5C148.7 175.2 151.7 173.6 154.0 172.0C156.3 170.4 158.2 170.2 160.0 167.0C161.8 163.8 163.3 157.5 165.0 153.0C166.7 148.5 168.2 144.0 170.0 140.0C171.8 136.0 174.0 131.8 176.0 129.0C178.0 126.2 180.5 124.2 182.0 123.0C183.5 121.8 184.0 121.9 185.0 121.6C186.0 121.3 186.9 121.0 188.1 121.0" fill="none" stroke="#00008b" stroke-width="1.75" stroke-linejoin="round" stroke-linecap="butt"/>
<path d="M188.1 121.0C189.3 121.0 190.3 120.8 192.0 121.6C193.7 122.4 196.0 124.3 198.0 126.0C200.0 127.7 201.7 130.2 204.0 132.0C206.3 133.8 209.7 134.7 212.0 137.0C214.3 139.3 215.7 142.3 218.0 146.0C220.3 149.7 223.3 155.2 226.0 159.0C228.7 162.8 231.7 165.9 234.0 169.0C236.3 172.1 238.3 174.3 240.0 177.5C241.7 180.7 242.7 184.9 244.0 188.0C245.3 191.1 247.0 194.4 248.0 196.0C249.0 197.6 249.1 196.7 250.0 197.5C250.9 198.3 252.3 200.2 253.6 200.6" fill="none" stroke="#ff0000" stroke-width="1.75" stroke-linejoin="round" stroke-linecap="butt"/>
<path d="M253.6 200.6C254.9 200.9 256.0 200.3 257.6 199.6C259.2 198.9 261.8 198.2 263.5 196.6C265.2 195.0 266.5 192.4 268.0 190.2C269.5 188.0 271.2 184.8 272.4 183.6" fill="none" stroke="#00008b" stroke-width="1.75" stroke-linejoin="round" stroke-linecap="butt"/>
<path d="M272.4 183.6C273.6 182.4 274.4 183.2 275.3 183.3C276.2 183.4 276.7 183.1 277.6 184.1C278.5 185.1 279.8 187.7 280.6 189.4C281.4 191.1 282.0 191.5 282.4 194.1C282.8 196.7 282.8 199.8 283.2 205.0C283.6 210.2 284.2 217.7 285.0 225.0C285.8 232.3 286.8 241.0 288.0 249.0C289.2 257.0 290.7 266.3 292.0 273.0C293.3 279.7 294.7 285.0 296.0 289.0C297.3 293.0 298.8 295.4 300.0 297.0C301.2 298.6 302.2 298.3 303.0 298.6C303.8 298.9 303.8 299.0 305.0 298.6" fill="none" stroke="#ff0000" stroke-width="1.75" stroke-linejoin="round" stroke-linecap="butt"/>
<path d="M305.0 298.6C306.2 298.2 307.8 297.6 310.0 296.0C312.2 294.4 315.3 292.0 318.0 289.0C320.7 286.0 323.3 282.2 326.0 278.0C328.7 273.8 331.8 267.4 334.0 264.0C336.2 260.6 337.0 259.2 339.0 257.4C341.0 255.6 343.8 254.2 346.0 253.0C348.2 251.8 350.0 251.8 352.0 250.0C354.0 248.2 355.7 245.0 358.0 242.0C360.3 239.0 363.0 235.3 366.0 232.0C369.0 228.7 372.8 225.5 376.0 222.4C379.2 219.3 382.8 216.0 385.0 213.6C387.2 211.2 387.8 211.9 389.0 208.0C390.2 204.1 391.1 196.2 392.4 190.0C393.7 183.8 395.4 176.0 397.0 171.0C398.6 166.0 400.5 162.7 402.0 160.0C403.5 157.3 404.7 156.2 406.0 155.0C407.3 153.8 408.5 153.3 409.6 152.8C410.7 152.3 411.4 152.2 412.4 152.2" fill="none" stroke="#00008b" stroke-width="1.75" stroke-linejoin="round" stroke-linecap="butt"/>
<path d="M412.4 152.2C413.4 152.2 414.1 152.2 415.4 152.8C416.7 153.4 417.9 154.2 420.0 155.6C422.1 157.0 425.3 159.6 428.0 161.0C430.7 162.4 433.3 162.8 436.0 164.0C438.7 165.2 441.7 167.0 444.0 168.0C446.3 169.0 447.6 170.1 449.6 170.0" fill="none" stroke="#ff0000" stroke-width="1.75" stroke-linejoin="round" stroke-linecap="butt"/>
<path d="M449.6 170.0C451.6 169.9 453.6 169.0 456.0 167.6C458.4 166.2 461.7 163.1 464.0 161.4C466.3 159.7 467.9 157.8 469.6 157.6" fill="none" stroke="#00008b" stroke-width="1.75" stroke-linejoin="round" stroke-linecap="butt"/>
<path d="M469.6 157.6C471.3 157.4 473.0 157.7 474.4 160.4C475.8 163.1 476.6 168.4 478.0 174.0C479.4 179.6 481.3 188.8 483.0 194.0C484.7 199.2 486.3 201.7 488.0 205.0C489.7 208.3 491.5 210.8 493.0 214.0C494.5 217.2 495.5 221.1 497.0 224.0C498.5 226.9 500.3 229.8 502.0 231.6C503.7 233.4 505.2 234.2 507.0 235.0C508.8 235.8 511.0 235.6 513.0 236.4C515.0 237.2 516.8 239.0 519.0 240.0C521.2 241.0 523.7 241.9 526.0 242.6C528.3 243.3 530.8 243.4 533.0 244.0C535.2 244.6 537.2 245.8 539.0 246.4C540.8 247.0 542.2 247.6 544.0 247.4" fill="none" stroke="#ff0000" stroke-width="1.75" stroke-linejoin="round" stroke-linecap="butt"/>
<path d="M544.0 247.4C545.8 247.2 548.0 246.6 550.0 245.4C552.0 244.2 554.2 242.4 556.0 240.0C557.8 237.6 559.5 234.7 561.0 231.0C562.5 227.3 563.8 221.8 565.0 218.0C566.2 214.2 566.8 211.3 568.0 208.0C569.2 204.7 570.5 201.0 572.0 198.0C573.5 195.0 575.3 192.3 577.0 190.0C578.7 187.7 580.5 186.2 582.0 184.0C583.5 181.8 584.7 180.8 586.0 177.0C587.3 173.2 588.5 165.7 590.0 161.0C591.5 156.3 593.2 152.7 595.0 149.0C596.8 145.3 599.2 142.3 601.0 139.0C602.8 135.7 604.5 131.2 606.0 129.0C607.5 126.8 608.7 126.6 610.0 126.0C611.3 125.4 612.3 125.2 614.0 125.4" fill="none" stroke="#00008b" stroke-width="1.75" stroke-linejoin="round" stroke-linecap="butt"/>
<path d="M614.0 125.4C615.7 125.6 618.2 125.9 620.0 127.0C621.8 128.1 622.8 129.3 625.0 132.0C627.2 134.7 630.3 139.3 633.0 143.0C635.7 146.7 638.3 150.3 641.0 154.0C643.7 157.7 646.8 162.1 649.0 165.0C651.2 167.9 652.8 170.1 654.0 171.6C655.2 173.1 655.3 173.9 656.0 174.0" fill="none" stroke="#ff0000" stroke-width="1.75" stroke-linejoin="round" stroke-linecap="butt"/>
<path d="M656.0 174.0C656.7 174.1 657.6 173.2 658.4 172.4C659.2 171.6 659.9 172.4 661.0 169.0C662.1 165.6 663.5 157.5 665.0 152.0C666.5 146.5 668.3 140.2 670.0 136.0C671.7 131.8 673.2 129.3 675.0 127.0C676.8 124.7 678.7 123.2 681.0 122.0C683.3 120.8 687.0 121.3 689.0 119.6C691.0 117.9 691.5 115.6 693.0 112.0C694.5 108.4 696.3 101.7 698.0 98.0C699.7 94.3 701.3 92.7 703.0 90.0C704.7 87.3 706.7 85.7 708.0 82.0C709.3 78.3 709.8 73.0 711.0 68.0C712.2 63.0 713.9 56.1 715.0 52.0C716.1 47.9 717.0 45.0 717.4 43.6" fill="none" stroke="#00008b" stroke-width="1.75" stroke-linejoin="round" stroke-linecap="butt"/>
<rect x="0" y="307.8" width="772" height="2" fill="#a4a4a4"/>
<rect x="-0.27" y="385.0" width="2.4" height="13.0" fill="#c71585"/>
<rect x="4.41" y="385.0" width="2.4" height="12.0" fill="#c71585"/>
<rect x="9.09" y="385.0" width="2.4" height="14.0" fill="#c71585"/>
<rect x="13.77" y="385.0" width="2.4" height="19.0" fill="#c71585"/>
<rect x="18.45" y="385.0" width="2.4" height="17.0" fill="#c71585"/>
<rect x="23.13" y="385.0" width="2.4" height="21.0" fill="#c71585"/>
<rect x="27.80" y="385.0" width="2.4" height="22.0" fill="#c71585"/>
<rect x="32.48" y="385.0" width="2.4" height="26.0" fill="#c71585"/>
<rect x="37.16" y="385.0" width="2.4" height="26.0" fill="#c71585"/>
<rect x="41.84" y="385.0" width="2.4" height="30.0" fill="#c71585"/>
<rect x="46.52" y="385.0" width="2.4" height="22.6" fill="#2f4f4f"/>
<rect x="51.20" y="385.0" width="2.4" height="28.0" fill="#2f4f4f"/>
<rect x="55.88" y="385.0" width="2.4" height="36.0" fill="#c71585"/>
<rect x="60.56" y="385.0" width="2.4" height="40.0" fill="#c71585"/>
<rect x="65.24" y="385.0" width="2.4" height="39.0" fill="#c71585"/>
<rect x="69.92" y="385.0" width="2.4" height="37.4" fill="#c71585"/>
<rect x="74.59" y="385.0" width="2.4" height="35.4" fill="#c71585"/>
<rect x="79.27" y="385.0" width="2.4" height="35.4" fill="#c71585"/>
<rect x="83.95" y="385.0" width="2.4" height="42.4" fill="#c71585"/>
<rect x="88.63" y="385.0" width="2.4" height="44.0" fill="#c71585"/>
<rect x="93.31" y="385.0" width="2.4" height="37.0" fill="#2f4f4f"/>
<rect x="97.99" y="385.0" width="2.4" height="31.0" fill="#2f4f4f"/>
<rect x="102.67" y="385.0" width="2.4" height="27.0" fill="#2f4f4f"/>
<rect x="107.35" y="385.0" width="2.4" height="19.0" fill="#2f4f4f"/>
<rect x="112.03" y="385.0" width="2.4" height="12.0" fill="#2f4f4f"/>
<rect x="116.71" y="385.0" width="2.4" height="6.6" fill="#2f4f4f"/>
<rect x="121.38" y="385.0" width="2.4" height="4.0" fill="#2f4f4f"/>
<rect x="126.06" y="381.0" width="2.4" height="4.0" fill="#00ced1"/>
<rect x="130.74" y="377.4" width="2.4" height="7.6" fill="#00ced1"/>
<rect x="135.42" y="376.4" width="2.4" height="8.6" fill="#00ced1"/>
<rect x="140.10" y="383.0" width="2.4" height="2.0" fill="#00ced1"/>
<rect x="144.78" y="379.6" width="2.4" height="5.4" fill="#00ced1"/>
<rect x="149.46" y="375.2" width="2.4" height="9.8" fill="#00ced1"/>
<rect x="154.14" y="371.6" width="2.4" height="13.4" fill="#00ced1"/>
<rect x="158.82" y="362.0" width="2.4" height="23.0" fill="#00ced1"/>
<rect x="163.50" y="349.4" width="2.4" height="35.6" fill="#00ced1"/>
<rect x="168.17" y="343.6" width="2.4" height="41.4" fill="#00ced1"/>
<rect x="172.85" y="342.4" width="2.4" height="42.6" fill="#00ced1"/>
<rect x="177.53" y="341.6" width="2.4" height="43.4" fill="#00ced1"/>
<rect x="182.21" y="337.6" width="2.4" height="47.4" fill="#00ced1"/>
<rect x="186.89" y="350.0" width="2.4" height="35.0" fill="#2f4f4f"/>
<rect x="191.57" y="358.0" width="2.4" height="27.0" fill="#2f4f4f"/>
<rect x="196.25" y="366.0" width="2.4" height="19.0" fill="#2f4f4f"/>
<rect x="200.93" y="373.0" width="2.4" height="12.0" fill="#2f4f4f"/>
<rect x="205.61" y="367.0" width="2.4" height="18.0" fill="#2f4f4f"/>
<rect x="210.29" y="375.0" width="2.4" height="10.0" fill="#2f4f4f"/>
<rect x="214.96" y="385.0" width="2.4" height="2.6" fill="#c71585"/>
<rect x="219.64" y="385.0" width="2.4" height="6.0" fill="#c71585"/>
<rect x="224.32" y="385.0" width="2.4" height="9.4" fill="#c71585"/>
<rect x="229.00" y="385.0" width="2.4" height="12.0" fill="#c71585"/>
<rect x="233.68" y="385.0" width="2.4" height="19.4" fill="#c71585"/>
<rect x="238.36" y="385.0" width="2.4" height="24.0" fill="#c71585"/>
<rect x="243.04" y="385.0" width="2.4" height="33.0" fill="#c71585"/>
<rect x="247.72" y="385.0" width="2.4" height="34.0" fill="#c71585"/>
<rect x="252.40" y="385.0" width="2.4" height="22.4" fill="#2f4f4f"/>
<rect x="257.08" y="385.0" width="2.4" height="15.0" fill="#2f4f4f"/>
<rect x="261.75" y="385.0" width="2.4" height="10.0" fill="#2f4f4f"/>
<rect x="266.43" y="385.0" width="2.4" height="3.0" fill="#2f4f4f"/>
<rect x="271.11" y="384.0" width="2.4" height="1.0" fill="#00ced1"/>
<rect x="275.79" y="385.0" width="2.4" height="13.0" fill="#2f4f4f"/>
<rect x="280.47" y="385.0" width="2.4" height="24.0" fill="#c71585"/>
<rect x="285.15" y="385.0" width="2.4" height="39.6" fill="#c71585"/>
<rect x="289.83" y="385.0" width="2.4" height="51.6" fill="#c71585"/>
<rect x="294.51" y="385.0" width="2.4" height="59.6" fill="#c71585"/>
<rect x="299.19" y="385.0" width="2.4" height="55.0" fill="#c71585"/>
<rect x="303.87" y="385.0" width="2.4" height="55.0" fill="#c71585"/>
<rect x="308.54" y="385.0" width="2.4" height="52.0" fill="#c71585"/>
<rect x="313.22" y="385.0" width="2.4" height="51.0" fill="#c71585"/>
<rect x="317.90" y="385.0" width="2.4" height="40.6" fill="#2f4f4f"/>
<rect x="322.58" y="385.0" width="2.4" height="34.6" fill="#2f4f4f"/>
<rect x="327.26" y="385.0" width="2.4" height="25.6" fill="#2f4f4f"/>
<rect x="331.94" y="385.0" width="2.4" height="24.4" fill="#2f4f4f"/>
<rect x="336.62" y="385.0" width="2.4" height="19.4" fill="#2f4f4f"/>
<rect x="341.30" y="385.0" width="2.4" height="23.0" fill="#2f4f4f"/>
<rect x="345.98" y="385.0" width="2.4" height="18.0" fill="#2f4f4f"/>
<rect x="350.66" y="385.0" width="2.4" height="13.0" fill="#2f4f4f"/>
<rect x="355.33" y="385.0" width="2.4" height="4.4" fill="#2f4f4f"/>
<rect x="360.01" y="383.0" width="2.4" height="2.0" fill="#00ced1"/>
<rect x="364.69" y="381.0" width="2.4" height="4.0" fill="#00ced1"/>
<rect x="369.37" y="380.6" width="2.4" height="4.4" fill="#00ced1"/>
<rect x="374.05" y="375.4" width="2.4" height="9.6" fill="#00ced1"/>
<rect x="378.73" y="374.2" width="2.4" height="10.8" fill="#00ced1"/>
<rect x="383.41" y="370.5" width="2.4" height="14.5" fill="#00ced1"/>
<rect x="388.09" y="363.5" width="2.4" height="21.5" fill="#00ced1"/>
<rect x="392.77" y="351.4" width="2.4" height="33.6" fill="#00ced1"/>
<rect x="397.45" y="347.0" width="2.4" height="38.0" fill="#00ced1"/>
<rect x="402.12" y="343.6" width="2.4" height="41.4" fill="#00ced1"/>
<rect x="406.80" y="344.0" width="2.4" height="41.0" fill="#00ced1"/>
<rect x="411.48" y="344.6" width="2.4" height="40.4" fill="#00ced1"/>
<rect x="416.16" y="352.0" width="2.4" height="33.0" fill="#00ced1"/>
<rect x="420.84" y="358.6" width="2.4" height="26.4" fill="#2f4f4f"/>
<rect x="425.52" y="357.6" width="2.4" height="27.4" fill="#2f4f4f"/>
<rect x="430.20" y="355.0" width="2.4" height="30.0" fill="#2f4f4f"/>
<rect x="434.88" y="354.0" width="2.4" height="31.0" fill="#2f4f4f"/>
<rect x="439.56" y="365.0" width="2.4" height="20.0" fill="#2f4f4f"/>
<rect x="444.24" y="367.0" width="2.4" height="18.0" fill="#2f4f4f"/>
<rect x="448.91" y="365.0" width="2.4" height="20.0" fill="#2f4f4f"/>
<rect x="453.59" y="356.0" width="2.4" height="29.0" fill="#2f4f4f"/>
<rect x="458.27" y="356.0" width="2.4" height="29.0" fill="#2f4f4f"/>
<rect x="462.95" y="357.0" width="2.4" height="28.0" fill="#2f4f4f"/>
<rect x="467.63" y="355.0" width="2.4" height="30.0" fill="#2f4f4f"/>
<rect x="472.31" y="369.0" width="2.4" height="16.0" fill="#2f4f4f"/>
<rect x="476.99" y="383.0" width="2.4" height="2.0" fill="#2f4f4f"/>
<rect x="481.67" y="385.0" width="2.4" height="10.0" fill="#c71585"/>
<rect x="486.35" y="385.0" width="2.4" height="7.4" fill="#c71585"/>
<rect x="491.03" y="385.0" width="2.4" height="14.4" fill="#c71585"/>
<rect x="495.70" y="385.0" width="2.4" height="22.0" fill="#c71585"/>
<rect x="500.38" y="385.0" width="2.4" height="23.0" fill="#c71585"/>
<rect x="505.06" y="385.0" width="2.4" height="23.4" fill="#c71585"/>
<rect x="509.74" y="385.0" width="2.4" height="22.0" fill="#c71585"/>
<rect x="514.42" y="385.0" width="2.4" height="26.6" fill="#c71585"/>
<rect x="519.10" y="385.0" width="2.4" height="30.5" fill="#c71585"/>
<rect x="523.78" y="385.0" width="2.4" height="26.4" fill="#c71585"/>
<rect x="528.46" y="385.0" width="2.4" height="26.0" fill="#c71585"/>
<rect x="533.14" y="385.0" width="2.4" height="29.6" fill="#c71585"/>
<rect x="537.81" y="385.0" width="2.4" height="28.2" fill="#c71585"/>
<rect x="542.49" y="385.0" width="2.4" height="26.0" fill="#c71585"/>
<rect x="547.17" y="385.0" width="2.4" height="19.0" fill="#2f4f4f"/>
<rect x="551.85" y="385.0" width="2.4" height="14.4" fill="#2f4f4f"/>
<rect x="556.53" y="385.0" width="2.4" height="4.4" fill="#2f4f4f"/>
<rect x="561.21" y="380.4" width="2.4" height="4.6" fill="#00ced1"/>
<rect x="565.89" y="370.0" width="2.4" height="15.0" fill="#00ced1"/>
<rect x="570.57" y="366.0" width="2.4" height="19.0" fill="#00ced1"/>
<rect x="575.25" y="365.4" width="2.4" height="19.6" fill="#00ced1"/>
<rect x="579.93" y="362.4" width="2.4" height="22.6" fill="#00ced1"/>
<rect x="584.60" y="355.4" width="2.4" height="29.6" fill="#00ced1"/>
<rect x="589.28" y="346.0" width="2.4" height="39.0" fill="#00ced1"/>
<rect x="593.96" y="342.4" width="2.4" height="42.6" fill="#00ced1"/>
<rect x="598.64" y="339.0" width="2.4" height="46.0" fill="#00ced1"/>
<rect x="603.32" y="332.4" width="2.4" height="52.6" fill="#00ced1"/>
<rect x="608.00" y="337.4" width="2.4" height="47.6" fill="#00ced1"/>
<rect x="612.68" y="343.4" width="2.4" height="41.6" fill="#2f4f4f"/>
<rect x="617.36" y="346.4" width="2.4" height="38.6" fill="#2f4f4f"/>
<rect x="622.04" y="355.6" width="2.4" height="29.4" fill="#2f4f4f"/>
<rect x="626.72" y="364.4" width="2.4" height="20.6" fill="#2f4f4f"/>
<rect x="631.39" y="369.0" width="2.4" height="16.0" fill="#2f4f4f"/>
<rect x="636.07" y="370.6" width="2.4" height="14.4" fill="#2f4f4f"/>
<rect x="640.75" y="378.0" width="2.4" height="7.0" fill="#2f4f4f"/>
<rect x="645.43" y="384.0" width="2.4" height="1.0" fill="#2f4f4f"/>
<rect x="650.11" y="385.0" width="2.4" height="0.8" fill="#c71585"/>
<rect x="654.79" y="385.0" width="2.4" height="8.6" fill="#c71585"/>
<rect x="659.47" y="379.0" width="2.4" height="6.0" fill="#00ced1"/>
<rect x="664.15" y="365.0" width="2.4" height="20.0" fill="#00ced1"/>
<rect x="668.83" y="359.0" width="2.4" height="26.0" fill="#00ced1"/>
<rect x="673.51" y="357.0" width="2.4" height="28.0" fill="#00ced1"/>
<rect x="678.18" y="356.4" width="2.4" height="28.6" fill="#00ced1"/>
<rect x="682.86" y="356.4" width="2.4" height="28.6" fill="#00ced1"/>
<rect x="687.54" y="354.0" width="2.4" height="31.0" fill="#00ced1"/>
<rect x="692.22" y="344.4" width="2.4" height="40.6" fill="#00ced1"/>
<rect x="696.90" y="336.0" width="2.4" height="49.0" fill="#00ced1"/>
<rect x="701.58" y="339.4" width="2.4" height="45.6" fill="#00ced1"/>
<rect x="706.26" y="335.0" width="2.4" height="50.0" fill="#00ced1"/>
<rect x="710.94" y="327.6" width="2.4" height="57.4" fill="#00ced1"/>
<rect x="715.62" y="322.0" width="2.4" height="63.0" fill="#00ced1"/>
<path d="M1.0 384.4 L7.0 384.4 L10.0 387.0 L15.0 391.4 L20.0 392.0 L25.0 394.4 L30.0 396.0 L34.0 399.0 L39.0 400.0 L43.0 403.4 L52.0 403.6 L57.0 410.0 L62.0 413.4 L80.0 413.6 L85.0 416.6 L89.0 418.0 L94.0 418.4 L99.0 426.4 L104.0 422.0 L109.0 416.0 L114.0 409.0 L119.0 403.0 L124.0 398.0 L128.0 391.0 L132.0 388.0 L136.0 387.0 L147.0 387.2 L152.0 385.6 L155.0 381.0 L159.0 373.0 L164.0 362.0 L169.0 355.6 L177.0 354.4 L183.0 350.0 L188.0 338.0 L193.0 346.0 L198.0 354.0 L202.0 359.6 L207.0 360.0 L212.0 363.0 L217.0 374.0 L226.0 380.0 L231.0 384.0 L235.0 392.0 L240.0 399.0 L244.0 403.6 L252.0 404.4 L259.0 415.0 L264.0 408.0 L270.0 400.0 L274.0 399.0 L280.0 398.0 L284.4 404.0 L289.0 415.0 L296.0 427.4 L315.0 427.6 L319.6 443.6 L324.0 436.0 L329.0 428.0 L333.0 427.4 L338.0 422.0 L344.0 421.6 L349.0 418.6 L354.0 411.0 L360.0 401.0 L365.0 397.4 L371.0 397.0 L376.0 392.0 L382.0 389.0 L386.0 384.0 L392.0 369.0 L399.0 361.0 L404.0 358.4 L417.0 358.4 L422.0 344.4 L436.0 344.4 L442.0 352.4 L446.0 353.6 L469.0 353.6 L474.0 357.0 L479.0 371.0 L483.0 382.4 L488.0 382.4 L492.0 386.0 L498.0 394.4 L510.0 394.6 L515.0 398.6 L520.0 403.0 L547.0 403.2 L553.0 411.4 L558.0 402.0 L563.0 390.0 L567.0 383.0 L572.0 378.4 L577.0 377.4 L582.0 374.4 L586.0 367.0 L591.0 358.0 L596.0 354.0 L600.0 351.0 L605.0 345.4 L614.0 345.2 L619.0 333.0 L624.0 342.0 L628.0 349.0 L633.0 354.4 L637.0 357.0 L642.0 364.0 L648.0 371.0 L652.0 374.0 L656.0 382.0 L660.4 393.0 L665.0 380.0 L670.0 374.0 L675.0 371.4 L684.0 371.0 L689.0 369.0 L694.0 359.0 L699.0 350.6 L707.0 350.4 L712.0 343.0 L717.0 336.0" fill="none" stroke="#ff6a4a" stroke-width="0.7" stroke-linejoin="round"/>
<path d="M1.0 389.6 L7.0 389.6 L10.0 392.0 L15.0 396.0 L20.0 397.0 L25.0 399.0 L30.0 400.0 L34.0 403.0 L39.0 404.0 L43.0 407.0 L48.0 414.0 L56.0 414.4 L62.0 418.0 L80.0 418.2 L85.0 421.0 L90.0 423.0 L95.0 428.0 L99.0 424.0 L104.0 418.0 L109.0 411.0 L114.0 404.0 L119.0 399.0 L124.0 394.0 L128.0 388.0 L132.0 384.0 L136.0 383.0 L147.0 382.8 L152.0 381.6 L155.0 377.0 L159.0 368.0 L164.0 357.0 L169.0 351.0 L177.0 350.0 L183.0 346.4 L188.0 342.4 L193.0 351.0 L198.0 359.0 L202.0 364.0 L207.0 365.0 L212.0 368.0 L217.0 379.0 L226.0 385.0 L231.0 389.0 L235.0 397.0 L240.0 404.0 L244.0 409.0 L249.0 410.0 L254.0 416.6 L259.0 409.0 L264.0 403.0 L270.0 396.0 L277.0 389.4 L281.0 394.0 L284.4 409.0 L289.0 421.0 L296.0 433.4 L315.0 434.0 L319.6 437.0 L324.0 430.0 L329.0 422.0 L333.0 421.0 L338.0 415.6 L344.0 415.0 L349.0 412.4 L354.0 405.0 L360.0 395.0 L365.0 391.6 L371.0 391.0 L376.0 386.0 L382.0 383.0 L386.0 378.0 L392.0 363.0 L399.0 355.0 L404.0 352.4 L417.0 352.4 L422.0 349.4 L436.0 349.4 L442.0 357.0 L446.0 358.0 L451.0 359.0 L455.6 364.0 L469.0 363.0 L474.0 361.4 L479.0 376.0 L483.0 387.0 L488.0 387.4 L492.0 391.0 L498.0 399.4 L510.0 399.8 L515.0 404.0 L520.0 407.6 L544.0 408.0 L548.6 412.4 L553.0 408.0 L558.0 397.0 L563.0 384.0 L567.0 378.0 L572.0 373.6 L577.0 373.0 L582.0 370.0 L586.0 362.0 L591.0 353.6 L596.0 350.0 L600.0 347.4 L605.0 339.6 L609.0 339.0 L614.0 335.4 L618.0 337.0 L624.0 347.0 L628.0 354.0 L633.0 359.6 L637.0 362.0 L642.0 369.0 L648.0 376.0 L652.0 378.0 L656.0 383.0 L660.4 387.0 L665.0 375.0 L670.0 369.0 L675.0 366.0 L684.0 365.4 L689.0 363.6 L694.0 354.0 L699.0 345.6 L707.0 345.4 L712.0 338.0 L717.0 331.0" fill="none" stroke="#32cd32" stroke-width="0.7" stroke-linejoin="round"/>
<line x1="772.5" y1="26" x2="772.5" y2="458" stroke="#858585" stroke-width="1"/>
<line x1="1.6" y1="457.5" x2="773" y2="457.5" stroke="#858585" stroke-width="1"/>
<line x1="771.8" y1="28.3" x2="773.3" y2="28.3" stroke="#555" stroke-width="0.6"/>
<text class="ax" x="773.5" y="30.5" textLength="18.8" lengthAdjust="spacingAndGlyphs">1.10920</text>
<line x1="771.8" y1="47.0" x2="773.3" y2="47.0" stroke="#555" stroke-width="0.6"/>
<text class="ax" x="773.5" y="49.2" textLength="18.8" lengthAdjust="spacingAndGlyphs">1.10590</text>
<line x1="771.8" y1="65.6" x2="773.3" y2="65.6" stroke="#555" stroke-width="0.6"/>
<text class="ax" x="773.5" y="67.8" textLength="18.8" lengthAdjust="spacingAndGlyphs">1.10260</text>
<line x1="771.8" y1="84.3" x2="773.3" y2="84.3" stroke="#555" stroke-width="0.6"/>
<text class="ax" x="773.5" y="86.5" textLength="18.8" lengthAdjust="spacingAndGlyphs">1.09930</text>
<line x1="771.8" y1="103.0" x2="773.3" y2="103.0" stroke="#555" stroke-width="0.6"/>
<text class="ax" x="773.5" y="105.2" textLength="18.8" lengthAdjust="spacingAndGlyphs">1.09600</text>
<line x1="771.8" y1="121.7" x2="773.3" y2="121.7" stroke="#555" stroke-width="0.6"/>
<text class="ax" x="773.5" y="123.9" textLength="18.8" lengthAdjust="spacingAndGlyphs">1.09270</text>
<line x1="771.8" y1="140.3" x2="773.3" y2="140.3" stroke="#555" stroke-width="0.6"/>
<text class="ax" x="773.5" y="142.5" textLength="18.8" lengthAdjust="spacingAndGlyphs">1.08940</text>
<line x1="771.8" y1="159.0" x2="773.3" y2="159.0" stroke="#555" stroke-width="0.6"/>
<text class="ax" x="773.5" y="161.2" textLength="18.8" lengthAdjust="spacingAndGlyphs">1.08610</text>
<line x1="771.8" y1="177.7" x2="773.3" y2="177.7" stroke="#555" stroke-width="0.6"/>
<text class="ax" x="773.5" y="179.9" textLength="18.8" lengthAdjust="spacingAndGlyphs">1.08280</text>
<line x1="771.8" y1="196.3" x2="773.3" y2="196.3" stroke="#555" stroke-width="0.6"/>
<text class="ax" x="773.5" y="198.5" textLength="18.8" lengthAdjust="spacingAndGlyphs">1.07950</text>
<line x1="771.8" y1="215.0" x2="773.3" y2="215.0" stroke="#555" stroke-width="0.6"/>
<text class="ax" x="773.5" y="217.2" textLength="18.8" lengthAdjust="spacingAndGlyphs">1.07620</text>
<line x1="771.8" y1="233.7" x2="773.3" y2="233.7" stroke="#555" stroke-width="0.6"/>
<text class="ax" x="773.5" y="235.9" textLength="18.8" lengthAdjust="spacingAndGlyphs">1.07290</text>
<line x1="771.8" y1="252.3" x2="773.3" y2="252.3" stroke="#555" stroke-width="0.6"/>
<text class="ax" x="773.5" y="254.5" textLength="18.8" lengthAdjust="spacingAndGlyphs">1.06960</text>
<line x1="771.8" y1="271.0" x2="773.3" y2="271.0" stroke="#555" stroke-width="0.6"/>
<text class="ax" x="773.5" y="273.2" textLength="18.8" lengthAdjust="spacingAndGlyphs">1.06630</text>
<line x1="771.8" y1="289.7" x2="773.3" y2="289.7" stroke="#555" stroke-width="0.6"/>
<text class="ax" x="773.5" y="291.9" textLength="18.8" lengthAdjust="spacingAndGlyphs">1.06300</text>
<rect x="772.2" y="28.1" width="22.6" height="6.5" fill="#7b8ea6"/>
<text class="ax" x="773.6" y="33.6" textLength="18.8" lengthAdjust="spacingAndGlyphs" style="fill:#fff">1.10864</text>
<line x1="771.8" y1="312.7" x2="773.3" y2="312.7" stroke="#555" stroke-width="0.6"/>
<text class="ax" x="773.4" y="314.9" textLength="13.4" lengthAdjust="spacingAndGlyphs">21.62</text>
<line x1="771.8" y1="385.0" x2="773.3" y2="385.0" stroke="#555" stroke-width="0.6"/>
<text class="ax" x="773.4" y="387.2" textLength="10.6" lengthAdjust="spacingAndGlyphs">0.00</text>
<line x1="771.8" y1="454.5" x2="773.3" y2="454.5" stroke="#555" stroke-width="0.6"/>
<text class="ax" x="773.4" y="456.7" textLength="15.6" lengthAdjust="spacingAndGlyphs">-20.55</text>
<path d="M714.3 26 L719.7 26 L717 28.8 Z" fill="#778899"/>
<text class="t7" x="28.3" y="34.2" textLength="173.9" lengthAdjust="spacingAndGlyphs">EURUSD+, Daily:  Euro vs US Dollar  1.10803 1.10889 1.10718 1.10864</text>
<text class="t7" x="4.2" y="127.4" textLength="47" lengthAdjust="spacingAndGlyphs">BUY 0.1 at 1.09149</text>
<text class="t7" x="4.6" y="209" textLength="6.6" lengthAdjust="spacingAndGlyphs">SL</text>
<text x="2.6" y="306.2" textLength="83.5" lengthAdjust="spacingAndGlyphs" style="font-size:8.8px;fill:#20208f">08:26:35 [15:33:25]</text>
<text class="t7" x="2.2" y="316.3" textLength="187" lengthAdjust="spacingAndGlyphs">Original QQE (14, 5, 14, 1.618, 2.618, Close, No, Current) 17.96 15.38 13.79</text>
<rect x="4.1" y="28.3" width="4.2" height="6.3" fill="#e96a6a"/><rect x="8.7" y="28.3" width="4.2" height="6.3" fill="#3f8fe0"/>
<path d="M5.2 29.5h2v1.5h-2z M5.2 32h2v1.5h-2z M9.8 29.5h2v1.5h-2z M9.8 32h2v1.5h-2z" fill="#fff" opacity="0.85"/>
<path d="M16.1 28.3h2.6l1.5 1.4v4.9h-4.1z" fill="#e96a6a"/><path d="M17.3 29.4h1.2l0.9 0.9v2.2h-2.1z" fill="#fff"/>
<rect x="20.6" y="30" width="4.2" height="4.6" fill="#3f8fe0"/><rect x="21.8" y="31.2" width="1.7" height="2.2" fill="#fff" opacity="0.85"/>
<line x1="0.9" y1="457.3" x2="0.9" y2="459" stroke="#555" stroke-width="0.6"/>
<text class="dt" x="1.4" y="464.7" textLength="29.6" lengthAdjust="spacingAndGlyphs">18 Jan 2024</text>
<line x1="38.4" y1="457.3" x2="38.4" y2="459" stroke="#555" stroke-width="0.6"/>
<text class="dt" x="38.9" y="464.7" textLength="29.6" lengthAdjust="spacingAndGlyphs">30 Jan 2024</text>
<line x1="75.8" y1="457.3" x2="75.8" y2="459" stroke="#555" stroke-width="0.6"/>
<text class="dt" x="76.3" y="464.7" textLength="27.2" lengthAdjust="spacingAndGlyphs">9 Feb 2024</text>
<line x1="113.2" y1="457.3" x2="113.2" y2="459" stroke="#555" stroke-width="0.6"/>
<text class="dt" x="113.7" y="464.7" textLength="29.6" lengthAdjust="spacingAndGlyphs">21 Feb 2024</text>
<line x1="150.7" y1="457.3" x2="150.7" y2="459" stroke="#555" stroke-width="0.6"/>
<text class="dt" x="151.2" y="464.7" textLength="27.2" lengthAdjust="spacingAndGlyphs">4 Mar 2024</text>
<line x1="188.1" y1="457.3" x2="188.1" y2="459" stroke="#555" stroke-width="0.6"/>
<text class="dt" x="188.6" y="464.7" textLength="29.6" lengthAdjust="spacingAndGlyphs">14 Mar 2024</text>
<line x1="225.5" y1="457.3" x2="225.5" y2="459" stroke="#555" stroke-width="0.6"/>
<text class="dt" x="226.0" y="464.7" textLength="29.6" lengthAdjust="spacingAndGlyphs">26 Mar 2024</text>
<line x1="263.0" y1="457.3" x2="263.0" y2="459" stroke="#555" stroke-width="0.6"/>
<text class="dt" x="263.5" y="464.7" textLength="27.2" lengthAdjust="spacingAndGlyphs">5 Apr 2024</text>
<line x1="300.4" y1="457.3" x2="300.4" y2="459" stroke="#555" stroke-width="0.6"/>
<text class="dt" x="300.9" y="464.7" textLength="29.6" lengthAdjust="spacingAndGlyphs">17 Apr 2024</text>
<line x1="337.8" y1="457.3" x2="337.8" y2="459" stroke="#555" stroke-width="0.6"/>
<text class="dt" x="338.3" y="464.7" textLength="29.6" lengthAdjust="spacingAndGlyphs">29 Apr 2024</text>
<line x1="375.3" y1="457.3" x2="375.3" y2="459" stroke="#555" stroke-width="0.6"/>
<text class="dt" x="375.8" y="464.7" textLength="27.2" lengthAdjust="spacingAndGlyphs">9 May 2024</text>
<line x1="412.7" y1="457.3" x2="412.7" y2="459" stroke="#555" stroke-width="0.6"/>
<text class="dt" x="413.2" y="464.7" textLength="29.6" lengthAdjust="spacingAndGlyphs">21 May 2024</text>
<line x1="450.1" y1="457.3" x2="450.1" y2="459" stroke="#555" stroke-width="0.6"/>
<text class="dt" x="450.6" y="464.7" textLength="29.6" lengthAdjust="spacingAndGlyphs">31 May 2024</text>
<line x1="487.5" y1="457.3" x2="487.5" y2="459" stroke="#555" stroke-width="0.6"/>
<text class="dt" x="488.0" y="464.7" textLength="29.6" lengthAdjust="spacingAndGlyphs">12 Jun 2024</text>
<line x1="525.0" y1="457.3" x2="525.0" y2="459" stroke="#555" stroke-width="0.6"/>
<text class="dt" x="525.5" y="464.7" textLength="29.6" lengthAdjust="spacingAndGlyphs">24 Jun 2024</text>
<line x1="562.4" y1="457.3" x2="562.4" y2="459" stroke="#555" stroke-width="0.6"/>
<text class="dt" x="562.9" y="464.7" textLength="27.2" lengthAdjust="spacingAndGlyphs">4 Jul 2024</text>
<line x1="599.8" y1="457.3" x2="599.8" y2="459" stroke="#555" stroke-width="0.6"/>
<text class="dt" x="600.3" y="464.7" textLength="29.6" lengthAdjust="spacingAndGlyphs">16 Jul 2024</text>
<line x1="637.3" y1="457.3" x2="637.3" y2="459" stroke="#555" stroke-width="0.6"/>
<text class="dt" x="637.8" y="464.7" textLength="29.6" lengthAdjust="spacingAndGlyphs">26 Jul 2024</text>
<line x1="674.7" y1="457.3" x2="674.7" y2="459" stroke="#555" stroke-width="0.6"/>
<text class="dt" x="675.2" y="464.7" textLength="27.2" lengthAdjust="spacingAndGlyphs">7 Aug 2024</text>
<line x1="712.1" y1="457.3" x2="712.1" y2="459" stroke="#555" stroke-width="0.6"/>
<text class="dt" x="712.6" y="464.7" textLength="29.6" lengthAdjust="spacingAndGlyphs">19 Aug 2024</text>
<circle cx="5.1" cy="6.5" r="4.6" fill="#da2128"/><circle cx="5.1" cy="6.5" r="1.85" fill="#fff"/>
<text x="11.7" y="9.6" textLength="22.3" lengthAdjust="spacingAndGlyphs" style="font-size:8px;fill:#111">745373</text>
<text x="36" y="9.6" textLength="3.2" lengthAdjust="spacingAndGlyphs" style="font-size:8px;fill:#111">-</text>
<text x="41.6" y="9.6" textLength="71.0" lengthAdjust="spacingAndGlyphs" style="font-size:8px;fill:#111">MonetaMarkets-Demo:</text>
<text x="116.4" y="9.6" textLength="17.0" lengthAdjust="spacingAndGlyphs" style="font-size:8px;fill:#111">Demo</text>
<text x="137" y="9.6" textLength="25.0" lengthAdjust="spacingAndGlyphs" style="font-size:8px;fill:#111">Account</text>
<text x="164.1" y="9.6" textLength="3.3" lengthAdjust="spacingAndGlyphs" style="font-size:8px;fill:#111">-</text>
<text x="170" y="9.6" textLength="19.7" lengthAdjust="spacingAndGlyphs" style="font-size:8px;fill:#111">Hedge</text>
<text x="192.1" y="9.6" textLength="3.3" lengthAdjust="spacingAndGlyphs" style="font-size:8px;fill:#111">-</text>
<text x="197.6" y="9.6" textLength="23.6" lengthAdjust="spacingAndGlyphs" style="font-size:8px;fill:#111">Moneta</text>
<text x="224" y="9.6" textLength="24.2" lengthAdjust="spacingAndGlyphs" style="font-size:8px;fill:#111">Markets</text>
<text x="250.5" y="9.6" textLength="13.5" lengthAdjust="spacingAndGlyphs" style="font-size:8px;fill:#111">(Pty)</text>
<text x="266.4" y="9.6" textLength="9.0" lengthAdjust="spacingAndGlyphs" style="font-size:8px;fill:#111">Ltd</text>
<text x="277.6" y="9.6" textLength="3.3" lengthAdjust="spacingAndGlyphs" style="font-size:8px;fill:#111">-</text>
<text x="283" y="9.6" textLength="50.6" lengthAdjust="spacingAndGlyphs" style="font-size:8px;fill:#111">[EURUSD+,Daily]</text>
<path d="M729.2 6.4h5.6 M755.8 4.4h4.4v4.4h-4.4z M757 4.4v-1.1h4.3v4.3h-1.1 M782.8 3.4l5.4 5.4 M788.2 3.4l-5.4 5.4" fill="none" stroke="#333" stroke-width="0.7"/>
<g fill="none" stroke="#22b02e" stroke-width="0.9"><path d="M4.7 15v6.6 M8.6 14.3v9"/><rect x="3.75" y="15.9" width="1.9" height="4.4" rx="0.7" fill="#e4f7e6"/><rect x="7.6" y="15.5" width="2.1" height="5.9" rx="0.7" fill="#e4f7e6"/></g>
<text class="menu" x="18" y="21.9" textLength="10.3" lengthAdjust="spacingAndGlyphs">File</text>
<text class="menu" x="41" y="21.9" textLength="14.7" lengthAdjust="spacingAndGlyphs">View</text>
<text class="menu" x="68" y="21.9" textLength="17.4" lengthAdjust="spacingAndGlyphs">Insert</text>
<text class="menu" x="97.7" y="21.9" textLength="19.2" lengthAdjust="spacingAndGlyphs">Charts</text>
<text class="menu" x="130" y="21.9" textLength="15.5" lengthAdjust="spacingAndGlyphs">Tools</text>
<text class="menu" x="157.7" y="21.9" textLength="25.3" lengthAdjust="spacingAndGlyphs">Window</text>
<text class="menu" x="196" y="21.9" textLength="14" lengthAdjust="spacingAndGlyphs">Help</text>
<path d="M769.8 21.4h4 M781.6 17.9h3v3h-3z M782.6 17.9v-1h3v3h-1 M792.2 17.6l3.2 3.2 M795.4 17.6l-3.2 3.2" fill="none" stroke="#444" stroke-width="0.7"/>
<defs><linearGradient id="sh" x1="0" y1="0" x2="0" y2="1"><stop offset="0" stop-color="#8e8e8e"/><stop offset="1" stop-color="#c9c9c9"/></linearGradient></defs>
<rect x="331.8" y="21" width="213.69999999999996" height="4.6" fill="url(#sh)"/>
<rect x="543.3" y="0" width="2" height="23" fill="#bdbdbd" opacity="0.7"/>
<rect x="331.2" y="-1" width="212.09999999999997" height="23" fill="#ffffff" stroke="#8a8a8a" stroke-width="0.4"/>
<rect x="558.2" y="21" width="140.20000000000002" height="4.6" fill="url(#sh)"/>
<rect x="696.2" y="0" width="2" height="23" fill="#bdbdbd" opacity="0.7"/>
<rect x="557.6" y="-1" width="138.60000000000002" height="23" fill="#ffffff" stroke="#8a8a8a" stroke-width="0.4"/>
<rect x="333.2" y="5" width="16.8" height="16.2" fill="#cce4f7"/>
<g fill="none" stroke="#2e7cc4" stroke-width="0.8" stroke-linecap="round" stroke-linejoin="round"><path d="M337.2 9.6 L345 12.8 L342.5 14.4 L344.9 16.6 L343.8 17.5 L341.4 15.3 L339.6 16.6 Z" fill="#d6ecfd"/><path d="M353.9 13.4h9.9 M358.6 8.5v9.7"/><circle cx="358.6" cy="13.4" r="0.9" fill="#fff"/><path d="M376.4 7.9v11"/><circle cx="376.4" cy="13.4" r="1.1" fill="#fff"/><path d="M388.3 13.4h11"/><circle cx="393.7" cy="13.4" r="1.1" fill="#fff"/><path d="M407.4 17.5L415.7 9.2"/><rect x="406.35" y="16.45" width="2.10" height="2.10" rx="0.5" fill="#fff"/><rect x="414.70" y="8.15" width="2.10" height="2.10" rx="0.5" fill="#fff"/><ellipse cx="428.8" cy="13.2" rx="3.9" ry="3.7"/><path d="M423.2 13.2l1.9-1.3v2.6z M434.6 13.2l-1.9-1.3v2.6z M428.8 8.3l1.1 1.3h-2.2z" fill="#9cc9ef"/><path d="M427.4 17.6h2.8" stroke-width="0.5"/><path d="M441.2 13.2L446.8 8.3 M446.3 18.6L452 13.2"/><path d="M448.8 8.6l1.6 0.6-1.4 1 1.2 2 M443 14.8l1.4 0.6-1.2 1 1.4 1.8" stroke-width="0.7"/><path d="M458.5 14.2L465.3 8.7 M463 17.8L469.8 11"/><circle cx="464.6" cy="9.2" r="1.05" fill="#fff"/><circle cx="463.4" cy="17.5" r="1.05" fill="#fff"/><circle cx="459.5" cy="13.8" r="1" fill="#2e7cc4"/><path d="M476 13.2L481.4 8.1 M477.4 17.5L485.5 9.4 M481.4 18.6L486.9 13.2"/><rect x="476.35" y="16.45" width="2.10" height="2.10" rx="0.5" fill="#fff"/><rect x="484.45" y="8.35" width="2.10" height="2.10" rx="0.5" fill="#fff"/><path d="M495.6 11.4L501.7 17.3 M497.6 14.2L503.5 8.3 M500.3 16.9L504.9 13.2"/><circle cx="495.6" cy="11.4" r="1.05" fill="#fff"/><circle cx="494.6" cy="17.5" r="1" fill="#2e7cc4"/><circle cx="500.8" cy="17.3" r="1" fill="#2e7cc4"/><path d="M510.9 8.3h10.8 M510.9 11.4h9.7 M510.9 14.4h10.8 M512.5 17.5h9.2"/><circle cx="520.6" cy="11.4" r="1.05" fill="#fff"/><circle cx="512.5" cy="17.5" r="1.05" fill="#fff"/><path d="M528.5 8.3h11 M528.5 13.2h11 M530 17.5L534.5 13.5 539 16.9"/><path d="M528.5 10.9h11" stroke="#a9cdea"/><circle cx="534.5" cy="13.5" r="1.05" fill="#fff"/><circle cx="530" cy="17.5" r="1" fill="#2e7cc4"/><circle cx="539" cy="16.9" r="1.05" fill="#fff"/></g>
<rect x="608.2" y="5.1" width="17.6" height="16.2" fill="#cce4f7"/>
<rect x="660.9" y="5.1" width="17.1" height="16.2" fill="#cce4f7"/><rect x="678.5" y="5.1" width="17.2" height="16.2" fill="#cce4f7"/>
<g fill="none" stroke-linecap="round" stroke-linejoin="round" stroke-width="0.8"><path d="M561.4 13.7L565.4 9.2 568.6 11.7 572.6 8.5" stroke="#2e7cc4"/><path d="M562.5 18.6v-3.1 M565 18.6v-5.1 M567.2 18.6v-4 M569.5 18.6v-5.4 M571.7 18.6v-5.6" stroke="#5ec46b" stroke-width="0.9"/><path d="M576.9 12.6h3.5l-1.75 2.2z" fill="#222" stroke="none"/><circle cx="591.8" cy="13.4" r="4.7" stroke="#2e7cc4" fill="#d6ebfb"/><path d="M591.8 11v2.5l1.6 1.6" stroke="#2e7cc4"/><path d="M601.7 12.6h3.6l-1.8 2.2z" fill="#222" stroke="none"/><path d="M614.5 8.5v10.1 M619.5 8.5v10.1" stroke="#2ea84a"/><rect x="613.4" y="10.1" width="2.2" height="7.2" rx="0.8" fill="#d4f5d8" stroke="#2ea84a"/><rect x="618.4" y="10.1" width="2.2" height="7.2" rx="0.8" fill="#d4f5d8" stroke="#2ea84a"/><circle cx="633.2" cy="12.6" r="3.7" stroke="#2e7cc4" fill="#e3f1fc"/><path d="M635.9 15.5l3.6 3.1 M631.4 12.6h3.6 M633.2 10.8v3.6" stroke="#2e7cc4"/><circle cx="650.7" cy="12.6" r="3.7" stroke="#2e7cc4" fill="#e3f1fc"/><path d="M653.4 15.5l3.6 3.1 M648.9 12.6h3.6" stroke="#2e7cc4"/><path d="M664.6 10.4v5.4 M666.8 9.8v6.6" stroke="#4cc25c" stroke-width="1.5"/><path d="M669.2 13.4h4 M671.8 11.9l1.5 1.5-1.5 1.5" stroke="#2ea84a"/><path d="M674.6 8.8v8.5" stroke="#2e7cc4"/><path d="M663.8 18.9h11.2" stroke="#b4c6d6"/><path d="M682 10.4v5.4 M684.4 9.8v6.6" stroke="#4cc25c" stroke-width="1.5"/><path d="M687.5 8.8v8.5 M689.2 13.4h3.6 M690.6 11.9l-1.5 1.5 1.5 1.5" stroke="#2e7cc4"/><path d="M681.2 18.9h11.4" stroke="#b4c6d6"/></g>
<rect x="0" y="467" width="800" height="12" fill="#f0f0f0"/>
<line x1="58.5" y1="468.5" x2="58.5" y2="477.5" stroke="#c8c8c8" stroke-width="0.7"/>
<line x1="115.5" y1="468.5" x2="115.5" y2="477.5" stroke="#c8c8c8" stroke-width="0.7"/>
<line x1="172.5" y1="468.5" x2="172.5" y2="477.5" stroke="#c8c8c8" stroke-width="0.7"/>
<line x1="232" y1="468.5" x2="232" y2="477.5" stroke="#c8c8c8" stroke-width="0.7"/>
<line x1="294" y1="468.5" x2="294" y2="477.5" stroke="#c8c8c8" stroke-width="0.7"/>
<line x1="354" y1="468.5" x2="354" y2="477.5" stroke="#c8c8c8" stroke-width="0.7"/>
<line x1="416" y1="468.5" x2="416" y2="477.5" stroke="#c8c8c8" stroke-width="0.7"/>
<line x1="469.5" y1="468.5" x2="469.5" y2="477.5" stroke="#c8c8c8" stroke-width="0.7"/>
<line x1="527.5" y1="468.5" x2="527.5" y2="477.5" stroke="#c8c8c8" stroke-width="0.7"/>
<line x1="586" y1="468.5" x2="586" y2="477.5" stroke="#c8c8c8" stroke-width="0.7"/>
<line x1="648.5" y1="468.5" x2="648.5" y2="477.5" stroke="#c8c8c8" stroke-width="0.7"/>
<line x1="706.5" y1="468.5" x2="706.5" y2="477.5" stroke="#c8c8c8" stroke-width="0.7"/>
<line x1="762.5" y1="468.5" x2="762.5" y2="477.5" stroke="#c8c8c8" stroke-width="0.7"/>
<rect x="235.5" y="466" width="59" height="12.4" fill="#ffffff"/>
<path d="M235.5 467.4V478.4H294.5V467.4" fill="none" stroke="#5a5a5a" stroke-width="0.7"/>
<text class="tab" x="8" y="476" textLength="43.5" lengthAdjust="spacingAndGlyphs">UKOUSD,Daily</text>
<text class="tab" x="65" y="476" textLength="43.5" lengthAdjust="spacingAndGlyphs">USOUSD,Daily</text>
<text class="tab" x="122" y="476" textLength="44" lengthAdjust="spacingAndGlyphs">USDTJPY,Daily</text>
<text class="tab" x="179" y="476" textLength="48.5" lengthAdjust="spacingAndGlyphs">AUDUSD+,Daily</text>
<text class="tabA" x="241.5" y="476" textLength="47.5" lengthAdjust="spacingAndGlyphs">EURUSD+,Daily</text>
<text class="tab" x="300.5" y="476" textLength="48" lengthAdjust="spacingAndGlyphs">GBPUSD+,Daily</text>
<text class="tab" x="360.5" y="476" textLength="48.5" lengthAdjust="spacingAndGlyphs">USDCAD+,Daily</text>
<text class="tab" x="422.5" y="476" textLength="41" lengthAdjust="spacingAndGlyphs">USDCHF+,H4</text>
<text class="tab" x="476" y="476" textLength="45.5" lengthAdjust="spacingAndGlyphs">USDJPY+,Daily</text>
<text class="tab" x="534" y="476" textLength="46" lengthAdjust="spacingAndGlyphs">USDSEK+,Daily</text>
<text class="tab" x="592.5" y="476" textLength="49" lengthAdjust="spacingAndGlyphs">NZDUSD+,Daily</text>
<text class="tab" x="655.5" y="476" textLength="44" lengthAdjust="spacingAndGlyphs">GBPJPY+,Daily</text>
<text class="tab" x="712.5" y="476" textLength="43.5" lengthAdjust="spacingAndGlyphs">XAGUSD,Daily</text>
<text class="tab" x="769" y="476" textLength="6.5" lengthAdjust="spacingAndGlyphs">XA</text>
<rect x="775.5" y="467.2" width="24.5" height="11.6" fill="#f0f0f0"/>
<path d="M783.4 472.8l-1.8 1.4 1.8 1.4z" fill="#b0b0b0"/><path d="M792.6 472.4l2.2 1.8-2.2 1.8z" fill="#222"/>
<rect x="0" y="478.8" width="800" height="18.8" fill="#f0f0f0"/>
<rect x="9.8" y="481.2" width="790.2" height="14.9" fill="#ffffff"/>
<path d="M3.8 483.2l2.4 2.4 M6.2 483.2l-2.4 2.4" stroke="#333" stroke-width="0.7" fill="none"/>
<rect x="3.8" y="487.8" width="1.9" height="4.6" fill="#c4c4c4"/>
<circle cx="15.6" cy="488.5" r="2.8" fill="#fff" stroke="#333" stroke-width="0.7"/><path d="M13.9 488.5h3.4 M15.6 486.8v3.4" stroke="#333" stroke-width="0.7"/>
<text class="tb" x="22" y="490.9" textLength="68.5" lengthAdjust="spacingAndGlyphs">Balance: 8 793.48 USD</text>
<text class="tb" x="95.75" y="490.9" textLength="45.8" lengthAdjust="spacingAndGlyphs">Profit: 1 876.94</text>
<text class="tb" x="146.25" y="490.9" textLength="52.2" lengthAdjust="spacingAndGlyphs">Equity: 10 670.42</text>
<text class="tb" x="203" y="490.9" textLength="55.8" lengthAdjust="spacingAndGlyphs">Margin: 10 209.16</text>
<text class="tb" x="263" y="490.9" textLength="61.2" lengthAdjust="spacingAndGlyphs">Free Margin: 461.26</text>
<text class="tb" x="329.25" y="490.9" textLength="71.8" lengthAdjust="spacingAndGlyphs">Margin Level: 104.52 %</text>
<rect x="0" y="497.4" width="800" height="12.6" fill="#f0f0f0"/>
<text class="tb" x="1.6" y="506.7" textLength="54" lengthAdjust="spacingAndGlyphs">For Help, press F1</text>
<text class="tb" x="393.6" y="506.7" textLength="23" lengthAdjust="spacingAndGlyphs">Default</text>
<line x1="391.5" y1="498.5" x2="391.5" y2="509.5" stroke="#d4d4d4" stroke-width="0.7"/>
<line x1="470" y1="498.5" x2="470" y2="509.5" stroke="#d4d4d4" stroke-width="0.7"/>
<line x1="528.5" y1="498.5" x2="528.5" y2="509.5" stroke="#d4d4d4" stroke-width="0.7"/>
<line x1="569.5" y1="498.5" x2="569.5" y2="509.5" stroke="#d4d4d4" stroke-width="0.7"/>
<line x1="611" y1="498.5" x2="611" y2="509.5" stroke="#d4d4d4" stroke-width="0.7"/>
<line x1="650" y1="498.5" x2="650" y2="509.5" stroke="#d4d4d4" stroke-width="0.7"/>
<line x1="691" y1="498.5" x2="691" y2="509.5" stroke="#d4d4d4" stroke-width="0.7"/>
<line x1="730" y1="498.5" x2="730" y2="509.5" stroke="#d4d4d4" stroke-width="0.7"/>
<path d="M734.4 506.6v-1.4 M736.2 506.6v-2.4 M738 506.6v-3.6 M739.8 506.6v-4.8" stroke="#2ea84a" stroke-width="1" fill="none"/>
<text class="tb" x="745" y="506.7" textLength="31.5" lengthAdjust="spacingAndGlyphs">175.29 ms</text>
</svg></body></html>
